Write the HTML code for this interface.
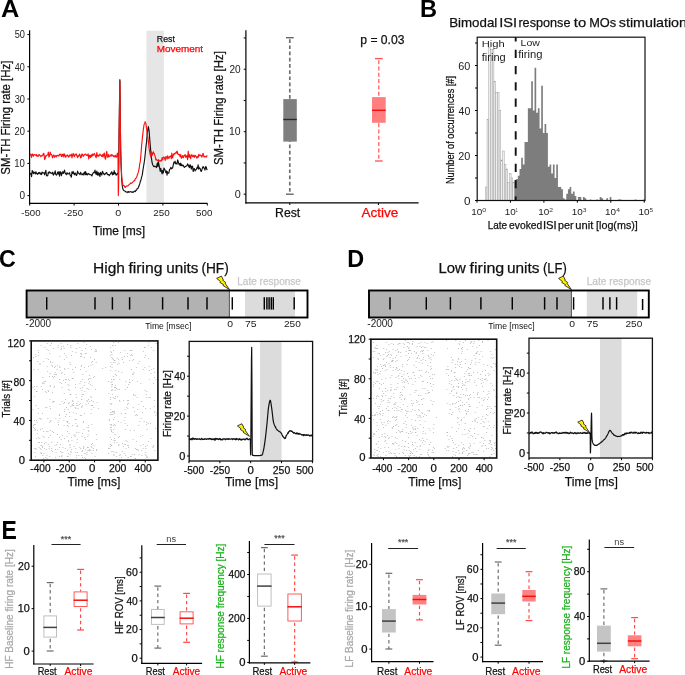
<!DOCTYPE html>
<html><head><meta charset="utf-8"><title>Figure</title>
<style>html,body{margin:0;padding:0;background:#fff;overflow:hidden}svg{display:block;will-change:transform}text{font-family:"Liberation Sans", sans-serif;stroke-width:0.25px}</style>
</head><body>
<svg width="685" height="675" viewBox="0 0 685 675">
<text x="1.04" y="16.9" font-size="24.64" fill="#000" font-weight="bold" textLength="18.32" lengthAdjust="spacingAndGlyphs">A</text>
<rect x="146.4" y="30.7" width="17.5" height="172.2" fill="#e6e6e6"/>
<path d="M29.7,172.79 L30.32,173.83 L30.94,173.69 L31.56,176.64 L32.19,170.51 L32.81,171.47 L33.43,173.61 L34.05,172.03 L34.67,172.76 L35.29,173.98 L35.92,171.77 L36.54,173.65 L37.16,173.69 L37.78,174.37 L38.4,172.57 L39.02,173.39 L39.65,172.46 L40.27,174.14 L40.89,173.09 L41.51,174.58 L42.13,172.08 L42.75,173.03 L43.38,172.84 L44,172.73 L44.62,174.8 L45.24,172.21 L45.86,170.37 L46.48,175.74 L47.1,175.88 L47.73,175.56 L48.35,172.17 L48.97,173.21 L49.59,171.84 L50.21,172.37 L50.83,173.12 L51.46,173.02 L52.08,173.68 L52.7,172.18 L53.32,175.09 L53.94,174.07 L54.56,173.11 L55.19,170.86 L55.81,174.59 L56.43,175.05 L57.05,174.31 L57.67,172.09 L58.29,173.84 L58.92,171.59 L59.54,176.23 L60.16,171.89 L60.78,172.03 L61.4,175.59 L62.02,173.32 L62.64,171.78 L63.27,173.42 L63.89,172.11 L64.51,170.12 L65.13,173.17 L65.75,173.98 L66.37,174.69 L67,172.64 L67.62,173.87 L68.24,173.85 L68.86,173.75 L69.48,172.66 L70.1,175.15 L70.73,175.82 L71.35,177.14 L71.97,171.88 L72.59,173.51 L73.21,171.43 L73.83,173.64 L74.46,174.7 L75.08,172.94 L75.7,173.74 L76.32,175.45 L76.94,174.92 L77.56,171.08 L78.18,173.13 L78.81,173.04 L79.43,174.05 L80.05,174.65 L80.67,172.36 L81.29,173.81 L81.91,174.76 L82.54,173.86 L83.16,174.98 L83.78,173.39 L84.4,172.03 L85.02,174.88 L85.64,171.6 L86.27,174.64 L86.89,173.45 L87.51,174.89 L88.13,174 L88.75,173.61 L89.37,174.31 L90,174.7 L90.62,174.67 L91.24,174.88 L91.86,175.96 L92.48,174.07 L93.1,173.11 L93.72,172.37 L94.35,172.75 L94.97,170.13 L95.59,173.23 L96.21,174.36 L96.83,170.98 L97.45,175.21 L98.08,172.29 L98.7,175.08 L99.32,173.18 L99.94,176.55 L100.56,172.4 L101.18,173.93 L101.81,175.1 L102.43,171.27 L103.05,172.59 L103.67,173.63 L104.29,174.78 L104.91,173.76 L105.54,173.94 L106.16,172.65 L106.78,172.55 L107.4,174.67 L108.02,174.5 L108.64,174.47 L109.26,175.66 L109.89,174.56 L110.51,173.84 L111.13,172.7 L111.75,171.79 L112.37,174.88 L112.99,172.91 L113.62,174.35 L114.24,170.7 L114.86,173.77 L115.48,172.98 L116.1,175.06 L116.72,174.88 L117.35,173.41 L117.97,174.26 L118.14,173.57 L118.5,169.84 L118.59,167.3 L119.21,122.22 L119.83,79.94 L119.92,79.68 L120.45,131.56 L120.63,147.84 L121.08,165.07 L121.7,179.84 L122.32,186.18 L122.94,189.15 L123.56,190.29 L124.18,190.76 L124.8,190.98 L125.25,191.16 L125.43,191.48 L126.05,192.08 L126.67,191.96 L127.29,191.81 L127.91,192.63 L128.53,191.58 L129.16,192.02 L129.78,192.07 L130.4,191.64 L131.02,191.77 L131.64,191.96 L132.26,192.44 L132.71,191.94 L132.89,191.92 L133.51,192.27 L134.13,191.26 L134.75,191.09 L135.37,191.56 L135.99,190.19 L136.62,190.1 L137.24,188.5 L137.33,188.53 L137.86,188.54 L138.48,187.29 L139.1,185.46 L139.72,183.9 L140.34,181.34 L140.7,180.5 L140.97,179.98 L141.59,177.14 L142.21,175.19 L142.83,170.93 L143.45,167.03 L144.07,163.47 L144.7,158.99 L145.32,152.97 L145.94,146.65 L146.38,143.36 L146.56,142.22 L147.18,134.36 L147.8,129.57 L148.34,126.5 L148.43,126.99 L149.05,130.26 L149.67,138.47 L150.29,145.7 L150.65,149.76 L150.91,152.95 L151.53,158.92 L152.16,163.06 L152.6,164.19 L152.78,164.95 L153.4,165.92 L154.02,166.75 L154.64,166.04 L155.26,166.72 L155.88,166.5 L156.51,167.53 L157.13,163.52 L157.75,162.75 L157.93,166.57 L158.37,161.61 L158.99,164.89 L159.61,168.01 L160.24,171.38 L160.59,168.24 L160.86,168.76 L161.48,171.33 L162.1,173.9 L162.72,170.28 L163.26,172.95 L163.34,172.78 L163.97,167.96 L164.59,168.97 L165.21,170.63 L165.83,172.62 L166.45,170.95 L167.07,175.12 L167.34,171.62 L167.7,172.77 L168.32,173.13 L168.94,172.96 L169.56,169.19 L170.18,169.05 L170.71,168.32 L170.8,167.23 L171.42,168.8 L172.05,168.29 L172.67,167.91 L173.29,164.7 L173.91,162.12 L174.53,162.71 L175.15,161.2 L175.33,163.82 L175.78,162.82 L176.4,163.35 L177.02,164.22 L177.64,159.92 L178.26,161.62 L178.88,164.2 L179.51,164.42 L179.77,163.48 L180.13,165.6 L180.75,163.08 L181.37,165.79 L181.99,164.66 L182.61,165.83 L183.24,165.26 L183.86,166.71 L184.48,167.28 L185.1,166.62 L185.72,166.42 L186.34,166.08 L186.96,165.75 L187.59,163.84 L188.21,165.07 L188.83,166.79 L189.45,165.54 L189.54,167.62 L190.07,164.66 L190.69,166.13 L191.32,169.06 L191.94,166.18 L192.56,166.26 L193.18,171.5 L193.8,168.85 L194.42,168.6 L195.05,170.85 L195.67,169.73 L196.29,169.67 L196.91,167.66 L197.53,168.04 L198.15,164.73 L198.42,169.12 L198.78,166.9 L199.4,168.5 L200.02,168.25 L200.64,170.36 L201.26,171.48 L201.88,169.85 L202.5,167.66 L203.13,166.5 L203.75,167.94 L204.37,168.11 L204.99,170.06 L205.61,166.64 L206.23,166.92 L206.86,169.64 L207.3,168.94" fill="none" stroke="#111" stroke-width="1.15" stroke-linejoin="round"/>
<path d="M29.7,154.82 L30.32,154.08 L30.94,154.84 L31.56,157.36 L32.19,153.95 L32.81,154.66 L33.43,156.18 L34.05,154.45 L34.67,154.79 L35.29,154.9 L35.92,155.31 L36.54,154.51 L37.16,156.49 L37.78,155.6 L38.4,156.1 L39.02,154.42 L39.65,155.29 L40.27,155.8 L40.89,156.56 L41.51,155.75 L42.13,155.34 L42.75,155.78 L43.38,153.35 L44,153.79 L44.62,159.54 L45.24,158.27 L45.86,155.62 L46.48,156 L47.1,155.02 L47.73,155.01 L48.35,152.08 L48.97,157.07 L49.59,155.93 L50.21,152.19 L50.83,154.35 L51.46,154.33 L52.08,156.14 L52.7,157.9 L53.32,155.09 L53.94,155.18 L54.56,157.25 L55.19,156.41 L55.81,155.46 L56.43,156.81 L57.05,155.5 L57.67,155.2 L58.29,155.29 L58.92,156.13 L59.54,154.43 L60.16,153.97 L60.78,154.85 L61.4,156.61 L62.02,154.22 L62.64,156.13 L63.27,153.99 L63.89,157.01 L64.51,153.94 L65.13,155.38 L65.75,157.28 L66.37,155.84 L67,155.27 L67.62,154.93 L68.24,156.87 L68.86,157.06 L69.48,155.04 L70.1,156.07 L70.73,154.99 L71.35,154.18 L71.97,157.9 L72.59,154.96 L73.21,153.46 L73.83,155.81 L74.46,156.6 L75.08,154.19 L75.7,154.96 L76.32,153.97 L76.94,155.88 L77.56,157.64 L78.18,155.52 L78.81,156.04 L79.43,154.15 L80.05,155.05 L80.67,157.87 L81.29,157.2 L81.91,153.98 L82.54,154.3 L83.16,156.34 L83.78,155.35 L84.4,154.66 L85.02,154.63 L85.64,154 L86.27,154.95 L86.89,155.5 L87.51,155.75 L88.13,153.72 L88.75,158.83 L89.37,155.56 L90,155.3 L90.62,157.55 L91.24,154.84 L91.86,156.36 L92.48,154.02 L93.1,155.54 L93.72,154.32 L94.35,153.47 L94.97,154.76 L95.59,156.7 L96.21,157.69 L96.83,152.64 L97.45,155.52 L98.08,156.41 L98.7,155.13 L99.32,155.65 L99.94,154.03 L100.56,155.3 L101.18,155.33 L101.81,156.45 L102.43,154.62 L103.05,156.95 L103.67,154.32 L104.29,152.99 L104.91,157.71 L105.54,159.16 L106.16,154.4 L106.78,151.41 L107.4,156.9 L108.02,157.28 L108.64,154.44 L109.26,156.65 L109.89,156.13 L110.51,155.89 L111.13,154.53 L111.75,155.98 L112.37,154.92 L112.99,155.62 L113.62,156.66 L114.24,155.84 L114.86,156.82 L115.48,155.34 L116.1,157.09 L116.72,157.04 L117.35,153.1 L117.97,155.37 L118.32,195.6 L118.59,186.9 L119.21,129.15 L119.83,82.41 L119.92,81.29 L120.45,132.5 L120.63,147.82 L121.08,163.28 L121.7,176.55 L122.32,182.09 L122.94,184.74 L123.56,185.72 L124.18,185.61 L124.72,187.11 L124.8,186.51 L125.43,187.49 L126.05,186.4 L126.67,185.79 L127.29,186.05 L127.91,185.91 L128.53,185.16 L129.16,184.54 L129.78,184.12 L130.4,183.07 L131.02,183.39 L131.64,183.27 L132,182.78 L132.26,182.54 L132.89,181.92 L133.51,181.37 L134.13,180.58 L134.75,180.63 L135.37,178.61 L135.99,178.22 L136.62,177.34 L137.24,175.22 L137.33,174.72 L137.86,173.63 L138.48,171.43 L139.1,168.97 L139.72,163.75 L139.99,163 L140.34,161.1 L140.97,154.07 L141.59,145.87 L142.21,139.65 L142.48,136.6 L142.83,134.16 L143.45,128.59 L144.07,124.53 L144.7,123.42 L145.14,121.52 L145.32,122.42 L145.94,123.66 L146.56,128.51 L147.18,133.31 L147.63,137.15 L147.8,137 L148.43,141.65 L149.05,148.11 L149.67,151.89 L150.29,155.17 L150.65,155.39 L150.91,157.24 L151.53,151.86 L152.16,155.4 L152.78,153.51 L153.4,151.74 L153.66,153.45 L154.02,153.1 L154.64,155.11 L155.26,156.51 L155.88,159.9 L156.15,159.25 L156.51,159.36 L157.13,160.33 L157.75,160.35 L158.37,161.24 L158.64,159.66 L158.99,161.28 L159.61,160.71 L160.24,161.07 L160.86,160.29 L161.48,160.85 L162.1,157.58 L162.72,159.76 L162.9,159.08 L163.34,157.22 L163.97,156.98 L164.59,158.06 L165.21,160.44 L165.83,156.55 L166.45,156.69 L167.07,159.18 L167.7,155.72 L168.32,157.89 L168.94,158.45 L169.56,156.44 L170.18,156.73 L170.8,155.98 L171.42,158.59 L171.78,153.19 L172.05,156.81 L172.67,157.87 L173.29,154.01 L173.91,154.91 L174.53,153.24 L175.15,153.67 L175.78,152.74 L176.4,151.91 L177.02,153.29 L177.11,151.08 L177.64,153.18 L178.26,154.72 L178.88,154.34 L179.51,154.54 L179.77,155.7 L180.13,156.74 L180.75,154.53 L181.37,158.29 L181.99,157.23 L182.61,155.64 L183.24,157.86 L183.86,155.76 L184.48,155.93 L185.1,154.49 L185.72,157.33 L186.34,156.91 L186.96,155.44 L187.59,159.77 L188.21,151.19 L188.83,157.07 L189.45,157.12 L189.54,154.66 L190.07,156.06 L190.69,158.74 L191.32,155.03 L191.94,154.67 L192.56,156.69 L193.18,156.43 L193.8,155.24 L194.42,157.4 L195.05,155.32 L195.67,155.69 L196.29,157.04 L196.91,158.15 L197.53,156.34 L198.15,157.35 L198.78,154.45 L199.4,155.77 L200.02,154.79 L200.64,155.79 L201.26,155.59 L201.88,157.2 L202.5,154.96 L203.13,153.24 L203.75,156.47 L204.37,156.91 L204.99,156.24 L205.61,156.74 L206.23,157.08 L206.86,155.78 L207.3,156.44" fill="none" stroke="#ff1010" stroke-width="1.15" stroke-linejoin="round"/>
<line x1="29.6" y1="30.2" x2="29.6" y2="204" stroke="#000" stroke-width="1.2"/>
<line x1="29" y1="203.4" x2="207.5" y2="203.4" stroke="#000" stroke-width="1.2"/>
<line x1="27.4" y1="195.6" x2="29.6" y2="195.6" stroke="#000" stroke-width="1"/>
<text x="19.4" y="199.3" font-size="10" fill="#222" textLength="5.56" lengthAdjust="spacingAndGlyphs">0</text>
<line x1="27.4" y1="163.4" x2="29.6" y2="163.4" stroke="#000" stroke-width="1"/>
<text x="14.23" y="167.1" font-size="10" fill="#222" textLength="10.68" lengthAdjust="spacingAndGlyphs">10</text>
<line x1="27.4" y1="131.2" x2="29.6" y2="131.2" stroke="#000" stroke-width="1"/>
<text x="14.53" y="134.9" font-size="10" fill="#222" textLength="10.37" lengthAdjust="spacingAndGlyphs">20</text>
<line x1="27.4" y1="99" x2="29.6" y2="99" stroke="#000" stroke-width="1"/>
<text x="14.63" y="102.7" font-size="10" fill="#222" textLength="10.27" lengthAdjust="spacingAndGlyphs">30</text>
<line x1="27.4" y1="66.8" x2="29.6" y2="66.8" stroke="#000" stroke-width="1"/>
<text x="14.82" y="70.5" font-size="10" fill="#222" textLength="10.07" lengthAdjust="spacingAndGlyphs">40</text>
<line x1="27.4" y1="34.6" x2="29.6" y2="34.6" stroke="#000" stroke-width="1"/>
<text x="14.63" y="38.3" font-size="10" fill="#222" textLength="10.27" lengthAdjust="spacingAndGlyphs">50</text>
<line x1="29.7" y1="203.4" x2="29.7" y2="205.6" stroke="#000" stroke-width="1"/>
<text x="21.31" y="216" font-size="9.57" fill="#222" textLength="19.29" lengthAdjust="spacingAndGlyphs">-500</text>
<line x1="74.1" y1="203.4" x2="74.1" y2="205.6" stroke="#000" stroke-width="1"/>
<text x="63.81" y="216" font-size="9.57" fill="#222" textLength="19.29" lengthAdjust="spacingAndGlyphs">-250</text>
<line x1="118.5" y1="203.4" x2="118.5" y2="205.6" stroke="#000" stroke-width="1"/>
<text x="115.17" y="216" font-size="9.57" fill="#222" textLength="6.02" lengthAdjust="spacingAndGlyphs">0</text>
<line x1="162.9" y1="203.4" x2="162.9" y2="205.6" stroke="#000" stroke-width="1"/>
<text x="153.31" y="216" font-size="9.57" fill="#222" textLength="16.47" lengthAdjust="spacingAndGlyphs">250</text>
<line x1="207.3" y1="203.4" x2="207.3" y2="205.6" stroke="#000" stroke-width="1"/>
<text x="196.01" y="216" font-size="9.57" fill="#222" textLength="16.37" lengthAdjust="spacingAndGlyphs">500</text>
<text x="92.76" y="235" font-size="11.88" fill="#111" stroke="#111" textLength="52.3" lengthAdjust="spacingAndGlyphs">Time [ms]</text>
<text x="0" y="0" font-size="12.17" fill="#111" stroke="#111" textLength="114.07" lengthAdjust="spacingAndGlyphs" transform="translate(9.9,174.67) rotate(-90)">SM-TH Firing rate [Hz]</text>
<text x="156.8" y="42" font-size="9.57" fill="#111" stroke="#111" textLength="18.06" lengthAdjust="spacingAndGlyphs">Rest</text>
<text x="156.71" y="52.4" font-size="9.57" fill="#ff0000" stroke="#ff0000" textLength="46.38" lengthAdjust="spacingAndGlyphs">Movement</text>
<line x1="243.7" y1="194.2" x2="245.9" y2="194.2" stroke="#000" stroke-width="1"/>
<line x1="243.7" y1="162.95" x2="245.9" y2="162.95" stroke="#000" stroke-width="1"/>
<line x1="243.7" y1="131.7" x2="245.9" y2="131.7" stroke="#000" stroke-width="1"/>
<line x1="243.7" y1="100.45" x2="245.9" y2="100.45" stroke="#000" stroke-width="1"/>
<line x1="243.7" y1="69.2" x2="245.9" y2="69.2" stroke="#000" stroke-width="1"/>
<line x1="243.7" y1="37.95" x2="245.9" y2="37.95" stroke="#000" stroke-width="1"/>
<text x="234.67" y="197.9" font-size="10" fill="#222" textLength="6.02" lengthAdjust="spacingAndGlyphs">0</text>
<text x="229.07" y="135.4" font-size="10" fill="#222" textLength="11.57" lengthAdjust="spacingAndGlyphs">10</text>
<text x="229.4" y="72.9" font-size="10" fill="#222" textLength="11.23" lengthAdjust="spacingAndGlyphs">20</text>
<line x1="289.8" y1="202.8" x2="289.8" y2="205" stroke="#000" stroke-width="1"/>
<line x1="378.4" y1="202.8" x2="378.4" y2="205" stroke="#000" stroke-width="1"/>
<text x="0" y="0" font-size="12.17" fill="#111" stroke="#111" textLength="113.77" lengthAdjust="spacingAndGlyphs" transform="translate(223.2,164.97) rotate(-90)">SM-TH Firing rate [Hz]</text>
<text x="275.12" y="216.9" font-size="13.33" fill="#111" stroke="#111" textLength="25.15" lengthAdjust="spacingAndGlyphs">Rest</text>
<text x="361.6" y="216.9" font-size="13.33" fill="#ff0000" stroke="#ff0000" textLength="36.68" lengthAdjust="spacingAndGlyphs">Active</text>
<text x="360.27" y="44.2" font-size="12.57" fill="#111" stroke="#111" textLength="44.24" lengthAdjust="spacingAndGlyphs">p = 0.03</text>
<line x1="289.8" y1="39.2" x2="289.8" y2="194.2" stroke="#707070" stroke-width="1.7" stroke-dasharray="3.7,2.5"/>
<line x1="286" y1="37.7" x2="293.7" y2="37.7" stroke="#666" stroke-width="1.4"/>
<line x1="286" y1="194.2" x2="293.7" y2="194.2" stroke="#666" stroke-width="1.4"/>
<rect x="283.3" y="99.1" width="13.5" height="42.5" fill="#7f7f7f"/>
<line x1="283.3" y1="119.5" x2="296.8" y2="119.5" stroke="#2a2a2a" stroke-width="1.4"/>
<line x1="378.8" y1="60.2" x2="378.8" y2="161" stroke="#ff5555" stroke-width="1.2" stroke-dasharray="4,2.3"/>
<line x1="375" y1="58.6" x2="382.7" y2="58.6" stroke="#ff5050" stroke-width="1.3"/>
<line x1="375" y1="161" x2="382.7" y2="161" stroke="#ff5050" stroke-width="1.3"/>
<rect x="372" y="97.1" width="13.7" height="25.7" fill="#ff7f7f"/>
<line x1="372" y1="110.3" x2="385.7" y2="110.3" stroke="#f01010" stroke-width="1.4"/>
<line x1="245.9" y1="30.2" x2="245.9" y2="203.4" stroke="#000" stroke-width="1.2"/>
<line x1="245.3" y1="202.8" x2="418.6" y2="202.8" stroke="#000" stroke-width="1.2"/>
<text x="420.05" y="16.9" font-size="24.64" fill="#000" font-weight="bold" textLength="17.05" lengthAdjust="spacingAndGlyphs">B</text>
<text x="449.24" y="27" font-size="13.33" fill="#111" stroke="#111" textLength="48" lengthAdjust="spacingAndGlyphs">Bimodal</text>
<text x="499.18" y="27" font-size="13.33" fill="#111" stroke="#111" textLength="17.87" lengthAdjust="spacingAndGlyphs">ISI</text>
<text x="518.41" y="27" font-size="13.33" fill="#111" stroke="#111" textLength="52.03" lengthAdjust="spacingAndGlyphs">response</text>
<text x="573.85" y="27" font-size="13.33" fill="#111" stroke="#111" textLength="12.35" lengthAdjust="spacingAndGlyphs">to</text>
<text x="589.17" y="27" font-size="13.33" fill="#111" stroke="#111" textLength="27.05" lengthAdjust="spacingAndGlyphs">MOs</text>
<text x="618.87" y="27" font-size="13.33" fill="#111" stroke="#111" textLength="68.12" lengthAdjust="spacingAndGlyphs">stimulation</text>
<rect x="485.3" y="187" width="1.72" height="13.5" fill="#eeeeee" stroke="#9a9a9a" stroke-width="0.45"/>
<rect x="487.02" y="119.5" width="1.72" height="81" fill="#eeeeee" stroke="#9a9a9a" stroke-width="0.45"/>
<rect x="488.74" y="47.5" width="1.72" height="153" fill="#eeeeee" stroke="#9a9a9a" stroke-width="0.45"/>
<rect x="490.46" y="49.75" width="1.72" height="150.75" fill="#eeeeee" stroke="#9a9a9a" stroke-width="0.45"/>
<rect x="492.18" y="49.75" width="1.72" height="150.75" fill="#eeeeee" stroke="#9a9a9a" stroke-width="0.45"/>
<rect x="493.9" y="81.25" width="1.72" height="119.25" fill="#eeeeee" stroke="#9a9a9a" stroke-width="0.45"/>
<rect x="495.62" y="92.5" width="1.72" height="108" fill="#eeeeee" stroke="#9a9a9a" stroke-width="0.45"/>
<rect x="497.34" y="92.5" width="1.72" height="108" fill="#eeeeee" stroke="#9a9a9a" stroke-width="0.45"/>
<rect x="499.06" y="110.5" width="1.72" height="90" fill="#eeeeee" stroke="#9a9a9a" stroke-width="0.45"/>
<rect x="500.78" y="160" width="1.72" height="40.5" fill="#eeeeee" stroke="#9a9a9a" stroke-width="0.45"/>
<rect x="502.5" y="151" width="1.72" height="49.5" fill="#eeeeee" stroke="#9a9a9a" stroke-width="0.45"/>
<rect x="504.22" y="164.5" width="1.72" height="36" fill="#eeeeee" stroke="#9a9a9a" stroke-width="0.45"/>
<rect x="505.94" y="169" width="1.72" height="31.5" fill="#eeeeee" stroke="#9a9a9a" stroke-width="0.45"/>
<rect x="507.66" y="182.5" width="1.72" height="18" fill="#eeeeee" stroke="#9a9a9a" stroke-width="0.45"/>
<rect x="509.38" y="173.5" width="1.72" height="27" fill="#eeeeee" stroke="#9a9a9a" stroke-width="0.45"/>
<rect x="511.1" y="178" width="1.72" height="22.5" fill="#eeeeee" stroke="#9a9a9a" stroke-width="0.45"/>
<rect x="512.82" y="182.5" width="1.72" height="18" fill="#eeeeee" stroke="#9a9a9a" stroke-width="0.45"/>
<path d="M514.5,200.5 L514.5,180.25 L516.17,180.25 L516.17,179.12 L517.84,179.12 L517.84,175.75 L519.51,175.75 L519.51,169 L521.18,169 L521.18,157.75 L522.85,157.75 L522.85,164.5 L524.52,164.5 L524.52,142 L526.19,142 L526.19,142 L527.86,142 L527.86,108.25 L529.53,108.25 L529.53,108.25 L531.2,108.25 L531.2,81.25 L532.87,81.25 L532.87,110.5 L534.54,110.5 L534.54,67.75 L536.21,67.75 L536.21,112.75 L537.88,112.75 L537.88,108.25 L539.55,108.25 L539.55,128.5 L541.22,128.5 L541.22,85.75 L542.89,85.75 L542.89,133 L544.56,133 L544.56,124 L546.23,124 L546.23,133 L547.9,133 L547.9,166.75 L549.57,166.75 L549.57,164.5 L551.24,164.5 L551.24,173.5 L552.91,173.5 L552.91,164.5 L554.58,164.5 L554.58,178 L556.25,178 L556.25,164.5 L557.92,164.5 L557.92,187 L559.59,187 L559.59,187 L561.26,187 L561.26,189.25 L562.93,189.25 L562.93,198.25 L564.6,198.25 L564.6,199.38 L566.27,199.38 L566.27,193.75 L567.94,193.75 L567.94,189.25 L569.61,189.25 L569.61,187 L571.28,187 L571.28,193.75 L572.95,193.75 L572.95,191.5 L574.62,191.5 L574.62,196 L576.29,196 L576.29,200.5 L577.96,200.5 L577.96,197.12 L579.63,197.12 L579.63,197.12 L581.3,197.12 L581.3,200.5 L582.97,200.5 L582.97,197.12 L584.64,197.12 L584.64,198.25 L586.31,198.25 L586.31,200.5 L587.98,200.5 L587.98,200.5 L589.65,200.5 L589.65,199.38 L591.32,199.38 L591.32,200.5 L592.99,200.5 L592.99,200.5 L594.66,200.5 L594.66,200.5 L596.33,200.5 L596.33,199.38 L598,199.38 L598,200.5 L599.67,200.5 L599.67,197.12 L601.34,197.12 L601.34,198.25 L603.01,198.25 L603.01,200.5 L604.68,200.5 L604.68,200.5 L606.35,200.5 L606.35,198.25 L608.02,198.25 L608.02,200.5 L609.69,200.5 L609.69,197.12 L611.36,197.12 L611.36,200.5 L613.03,200.5 L613.03,200.5 L614.7,200.5 L614.7,200.5 L616.37,200.5 L616.37,200.5 L618.04,200.5 L618.04,199.38 L619.71,199.38 L619.71,199.38 L621.38,199.38 L621.38,200.5 L623.05,200.5 L623.05,200.5 L624.72,200.5 L624.72,200.5 L626.39,200.5 L626.39,200.5 L628.06,200.5 L628.06,200.5 L629.73,200.5 L629.73,200.5 L631.4,200.5 L631.4,200.5 L633.07,200.5 L633.07,200.5 L634.74,200.5 L634.74,199.38 L636.41,199.38 L636.41,200.5 L638.08,200.5 L638.08,200.5 L639.75,200.5 L639.75,200.5 L641.42,200.5 L641.42,200.5 L643.09,200.5 L643.09,199.38 L644.76,199.38 L644.76,200.5 Z" fill="#7d7d7d"/>
<rect x="477.2" y="37.2" width="167.8" height="163.3" fill="none" stroke="#111" stroke-width="1.2"/>
<line x1="515.7" y1="37.2" x2="515.7" y2="200.5" stroke="#111" stroke-width="1.9" stroke-dasharray="8.2,8.1" stroke-dashoffset="3.8"/>
<line x1="475" y1="200.5" x2="477.2" y2="200.5" stroke="#000" stroke-width="1"/>
<line x1="475" y1="178" x2="477.2" y2="178" stroke="#000" stroke-width="1"/>
<line x1="475" y1="155.5" x2="477.2" y2="155.5" stroke="#000" stroke-width="1"/>
<line x1="475" y1="133" x2="477.2" y2="133" stroke="#000" stroke-width="1"/>
<line x1="475" y1="110.5" x2="477.2" y2="110.5" stroke="#000" stroke-width="1"/>
<line x1="475" y1="88" x2="477.2" y2="88" stroke="#000" stroke-width="1"/>
<line x1="475" y1="65.5" x2="477.2" y2="65.5" stroke="#000" stroke-width="1"/>
<line x1="475" y1="43" x2="477.2" y2="43" stroke="#000" stroke-width="1"/>
<text x="463.93" y="204.5" font-size="10.86" fill="#222" textLength="6.49" lengthAdjust="spacingAndGlyphs">0</text>
<text x="458.26" y="159.5" font-size="10.86" fill="#222" textLength="12.09" lengthAdjust="spacingAndGlyphs">20</text>
<text x="458.59" y="114.5" font-size="10.86" fill="#222" textLength="11.75" lengthAdjust="spacingAndGlyphs">40</text>
<text x="458.26" y="69.5" font-size="10.86" fill="#222" textLength="12.09" lengthAdjust="spacingAndGlyphs">60</text>
<line x1="477" y1="200.5" x2="477" y2="202.7" stroke="#000" stroke-width="1"/>
<text x="471.31" y="214.9" font-size="9.57" fill="#222" textLength="11.01" lengthAdjust="spacingAndGlyphs">10</text>
<text x="482.32" y="212.3" font-size="5.71" fill="#333" textLength="3.94" lengthAdjust="spacingAndGlyphs">0</text>
<line x1="510.45" y1="200.5" x2="510.45" y2="202.7" stroke="#000" stroke-width="1"/>
<text x="504.76" y="214.9" font-size="9.57" fill="#222" textLength="11.01" lengthAdjust="spacingAndGlyphs">10</text>
<text x="515.75" y="212.3" font-size="5.71" fill="#333" textLength="2.07" lengthAdjust="spacingAndGlyphs">1</text>
<line x1="543.9" y1="200.5" x2="543.9" y2="202.7" stroke="#000" stroke-width="1"/>
<text x="538.21" y="214.9" font-size="9.57" fill="#222" textLength="11.01" lengthAdjust="spacingAndGlyphs">10</text>
<text x="549.16" y="212.3" font-size="5.71" fill="#333" textLength="3.75" lengthAdjust="spacingAndGlyphs">2</text>
<line x1="577.35" y1="200.5" x2="577.35" y2="202.7" stroke="#000" stroke-width="1"/>
<text x="571.66" y="214.9" font-size="9.57" fill="#222" textLength="11.01" lengthAdjust="spacingAndGlyphs">10</text>
<text x="582.69" y="212.3" font-size="5.71" fill="#333" textLength="3.67" lengthAdjust="spacingAndGlyphs">3</text>
<line x1="610.8" y1="200.5" x2="610.8" y2="202.7" stroke="#000" stroke-width="1"/>
<text x="605.11" y="214.9" font-size="9.57" fill="#222" textLength="11.01" lengthAdjust="spacingAndGlyphs">10</text>
<text x="616.27" y="212.3" font-size="5.71" fill="#333" textLength="3.71" lengthAdjust="spacingAndGlyphs">4</text>
<line x1="644.25" y1="200.5" x2="644.25" y2="202.7" stroke="#000" stroke-width="1"/>
<text x="638.56" y="214.9" font-size="9.57" fill="#222" textLength="11.01" lengthAdjust="spacingAndGlyphs">10</text>
<text x="649.59" y="212.3" font-size="5.71" fill="#333" textLength="3.59" lengthAdjust="spacingAndGlyphs">5</text>
<text x="0" y="0" font-size="11.16" fill="#111" stroke="#111" textLength="107.99" lengthAdjust="spacingAndGlyphs" transform="translate(453.5,184.03) rotate(-90)">Number of occurrences [#]</text>
<text x="487.7" y="229" font-size="10.58" fill="#111" stroke="#111" textLength="19.35" lengthAdjust="spacingAndGlyphs">Late</text>
<text x="509.09" y="229" font-size="10.58" fill="#111" stroke="#111" textLength="33.17" lengthAdjust="spacingAndGlyphs">evoked</text>
<text x="542.99" y="229" font-size="10.58" fill="#111" stroke="#111" textLength="13.75" lengthAdjust="spacingAndGlyphs">ISI</text>
<text x="558.06" y="229" font-size="10.58" fill="#111" stroke="#111" textLength="15.51" lengthAdjust="spacingAndGlyphs">per</text>
<text x="575.33" y="229" font-size="10.58" fill="#111" stroke="#111" textLength="17.9" lengthAdjust="spacingAndGlyphs">unit</text>
<text x="596.05" y="229" font-size="10.58" fill="#111" stroke="#111" textLength="41.79" lengthAdjust="spacingAndGlyphs">[log(ms)]</text>
<text x="481.7" y="47.4" font-size="9.71" fill="#222" textLength="23.04" lengthAdjust="spacingAndGlyphs">High</text>
<text x="481.79" y="60.5" font-size="10" fill="#222" textLength="23.95" lengthAdjust="spacingAndGlyphs">firing</text>
<text x="520.56" y="46" font-size="9.28" fill="#222" textLength="19.29" lengthAdjust="spacingAndGlyphs">Low</text>
<text x="518.19" y="58.4" font-size="10" fill="#222" textLength="24.37" lengthAdjust="spacingAndGlyphs">firing</text>
<text x="-0.93" y="267.3" font-size="24.71" fill="#000" font-weight="bold" textLength="16.78" lengthAdjust="spacingAndGlyphs">C</text>
<text x="92.96" y="273.3" font-size="14.93" fill="#111" stroke="#111" textLength="31.98" lengthAdjust="spacingAndGlyphs">High</text>
<text x="128.44" y="273.3" font-size="14.93" fill="#111" stroke="#111" textLength="34.12" lengthAdjust="spacingAndGlyphs">firing</text>
<text x="166.18" y="273.3" font-size="14.93" fill="#111" stroke="#111" textLength="32.26" lengthAdjust="spacingAndGlyphs">units</text>
<text x="201.38" y="273.3" font-size="14.93" fill="#111" stroke="#111" textLength="27.33" lengthAdjust="spacingAndGlyphs">(HF)</text>
<rect x="26.6" y="290.5" width="202.8" height="27" fill="#b2b2b2"/>
<rect x="245" y="290.5" width="50" height="27" fill="#dcdcdc"/>
<line x1="229.4" y1="289.5" x2="229.4" y2="317.5" stroke="#444" stroke-width="0.9"/>
<rect x="26.6" y="290.5" width="280.9" height="27" fill="none" stroke="#000" stroke-width="1.9"/>
<line x1="46.7" y1="297.2" x2="46.7" y2="309.6" stroke="#000" stroke-width="1.45"/>
<line x1="95" y1="297.2" x2="95" y2="309.6" stroke="#000" stroke-width="1.45"/>
<line x1="112.4" y1="297.2" x2="112.4" y2="309.6" stroke="#000" stroke-width="1.45"/>
<line x1="129.6" y1="297.2" x2="129.6" y2="309.6" stroke="#000" stroke-width="1.45"/>
<line x1="162.6" y1="297.2" x2="162.6" y2="309.6" stroke="#000" stroke-width="1.45"/>
<line x1="188" y1="297.2" x2="188" y2="309.6" stroke="#000" stroke-width="1.45"/>
<line x1="207" y1="297.2" x2="207" y2="309.6" stroke="#000" stroke-width="1.45"/>
<line x1="232.3" y1="297.2" x2="232.3" y2="309.6" stroke="#000" stroke-width="1.45"/>
<line x1="264.3" y1="297.2" x2="264.3" y2="309.6" stroke="#000" stroke-width="1.45"/>
<line x1="266.9" y1="297.2" x2="266.9" y2="309.6" stroke="#000" stroke-width="1.45"/>
<line x1="269.1" y1="297.2" x2="269.1" y2="309.6" stroke="#000" stroke-width="1.45"/>
<line x1="271.3" y1="297.2" x2="271.3" y2="309.6" stroke="#000" stroke-width="1.45"/>
<line x1="273.3" y1="297.2" x2="273.3" y2="309.6" stroke="#000" stroke-width="1.45"/>
<line x1="294.2" y1="297.2" x2="294.2" y2="309.6" stroke="#000" stroke-width="1.45"/>
<text x="25.6" y="326.8" font-size="10" fill="#222" textLength="25.57" lengthAdjust="spacingAndGlyphs">-2000</text>
<text x="227.38" y="326.8" font-size="9.14" fill="#222" textLength="5.79" lengthAdjust="spacingAndGlyphs">0</text>
<text x="244.98" y="326.6" font-size="9" fill="#222" textLength="11.66" lengthAdjust="spacingAndGlyphs">75</text>
<text x="283.99" y="326.6" font-size="9" fill="#222" textLength="16.89" lengthAdjust="spacingAndGlyphs">250</text>
<text x="237.19" y="285.3" font-size="10.14" fill="#c6c6c6" stroke="#c6c6c6" textLength="63.78" lengthAdjust="spacingAndGlyphs">Late response</text>
<text x="145.13" y="329.4" font-size="8.84" fill="#111" textLength="46.25" lengthAdjust="spacingAndGlyphs">Time [msec]</text>
<path d="M216.6,278.4 L221.4,276.1 L223.3,279.6 L222.6,280 L225.8,282.6 L225,283.2 L229.5,289.6 L222.8,285.4 L223.6,284.7 L219.8,282.4 L220.6,281.6 Z" fill="#fff000" stroke="#111" stroke-width="0.8" stroke-linejoin="miter"/>
<text x="347.16" y="267.1" font-size="24.64" fill="#000" font-weight="bold" textLength="16.93" lengthAdjust="spacingAndGlyphs">D</text>
<text x="438.41" y="273.3" font-size="14.93" fill="#111" stroke="#111" textLength="27.36" lengthAdjust="spacingAndGlyphs">Low</text>
<text x="469.54" y="273.3" font-size="14.93" fill="#111" stroke="#111" textLength="34.74" lengthAdjust="spacingAndGlyphs">firing</text>
<text x="506.98" y="273.3" font-size="14.93" fill="#111" stroke="#111" textLength="32.47" lengthAdjust="spacingAndGlyphs">units</text>
<text x="542.92" y="273.3" font-size="14.93" fill="#111" stroke="#111" textLength="23.9" lengthAdjust="spacingAndGlyphs">(LF)</text>
<rect x="369" y="290.5" width="202.4" height="27" fill="#b2b2b2"/>
<rect x="586.8" y="290.5" width="50.4" height="27" fill="#dcdcdc"/>
<line x1="571.4" y1="289.5" x2="571.4" y2="317.5" stroke="#444" stroke-width="0.9"/>
<rect x="369" y="290.5" width="279.8" height="27" fill="none" stroke="#000" stroke-width="1.9"/>
<line x1="390" y1="297.2" x2="390" y2="309.6" stroke="#000" stroke-width="1.45"/>
<line x1="426.3" y1="297.2" x2="426.3" y2="309.6" stroke="#000" stroke-width="1.45"/>
<line x1="450.4" y1="297.2" x2="450.4" y2="309.6" stroke="#000" stroke-width="1.45"/>
<line x1="480.9" y1="297.2" x2="480.9" y2="309.6" stroke="#000" stroke-width="1.45"/>
<line x1="512.3" y1="297.2" x2="512.3" y2="309.6" stroke="#000" stroke-width="1.45"/>
<line x1="544.6" y1="297.2" x2="544.6" y2="309.6" stroke="#000" stroke-width="1.45"/>
<line x1="557" y1="297.2" x2="557" y2="309.6" stroke="#000" stroke-width="1.45"/>
<line x1="573.6" y1="297.2" x2="573.6" y2="309.6" stroke="#000" stroke-width="1.45"/>
<line x1="603" y1="297.2" x2="603" y2="309.6" stroke="#000" stroke-width="1.45"/>
<line x1="609.9" y1="297.2" x2="609.9" y2="309.6" stroke="#000" stroke-width="1.45"/>
<line x1="616.6" y1="297.2" x2="616.6" y2="309.6" stroke="#000" stroke-width="1.45"/>
<line x1="642.6" y1="299" x2="642.6" y2="310" stroke="#000" stroke-width="1.5"/>
<text x="367.3" y="326.8" font-size="10" fill="#222" textLength="25.57" lengthAdjust="spacingAndGlyphs">-2000</text>
<text x="569.38" y="326.8" font-size="9.14" fill="#222" textLength="5.79" lengthAdjust="spacingAndGlyphs">0</text>
<text x="586.78" y="326.6" font-size="9" fill="#222" textLength="11.55" lengthAdjust="spacingAndGlyphs">75</text>
<text x="625.49" y="326.6" font-size="9" fill="#222" textLength="16.89" lengthAdjust="spacingAndGlyphs">250</text>
<text x="586.69" y="285.3" font-size="10.14" fill="#c6c6c6" stroke="#c6c6c6" textLength="64.39" lengthAdjust="spacingAndGlyphs">Late response</text>
<text x="488.13" y="329.4" font-size="8.84" fill="#111" textLength="46.65" lengthAdjust="spacingAndGlyphs">Time [msec]</text>
<path d="M558.5,278.4 L563.3,276.1 L565.2,279.6 L564.5,280 L567.7,282.6 L566.9,283.2 L571.4,289.6 L564.7,285.4 L565.5,284.7 L561.7,282.4 L562.5,281.6 Z" fill="#fff000" stroke="#111" stroke-width="0.8" stroke-linejoin="miter"/>
<path d="M35.78,449.1h0.85v0.85h-0.85zM147.95,345.1h0.85v0.85h-0.85zM48.38,350.1h0.85v0.85h-0.85zM114.86,345.1h0.85v0.85h-0.85zM57.7,347.1h0.85v0.85h-0.85zM76.25,455.1h0.85v0.85h-0.85zM85.81,353.1h0.85v0.85h-0.85zM116.17,375.1h0.85v0.85h-0.85zM57.24,442.1h0.85v0.85h-0.85zM75.31,448.1h0.85v0.85h-0.85zM90.67,405.1h0.85v0.85h-0.85zM145.19,446.1h0.85v0.85h-0.85zM119.16,389.1h0.85v0.85h-0.85zM118.37,371.1h0.85v0.85h-0.85zM71.78,378.1h0.85v0.85h-0.85zM43.33,458.1h0.85v0.85h-0.85zM53.73,401.1h0.85v0.85h-0.85zM35.27,448.1h0.85v0.85h-0.85zM48.06,391.1h0.85v0.85h-0.85zM143.9,347.1h0.85v0.85h-0.85zM55.91,444.1h0.85v0.85h-0.85zM93.7,445.1h0.85v0.85h-0.85zM59.29,366.1h0.85v0.85h-0.85zM71.5,440.1h0.85v0.85h-0.85zM74.68,436.1h0.85v0.85h-0.85zM125.29,444.1h0.85v0.85h-0.85zM37.19,430.1h0.85v0.85h-0.85zM40.61,449.1h0.85v0.85h-0.85zM82.58,374.1h0.85v0.85h-0.85zM124.7,423.1h0.85v0.85h-0.85zM114.69,390.1h0.85v0.85h-0.85zM147.86,441.1h0.85v0.85h-0.85zM50.87,450.1h0.85v0.85h-0.85zM110.28,427.1h0.85v0.85h-0.85zM50.11,408.1h0.85v0.85h-0.85zM126.88,353.1h0.85v0.85h-0.85zM36.62,391.1h0.85v0.85h-0.85zM52.53,362.1h0.85v0.85h-0.85zM50.16,430.1h0.85v0.85h-0.85zM76.75,439.1h0.85v0.85h-0.85zM111.55,390.1h0.85v0.85h-0.85zM52.12,431.1h0.85v0.85h-0.85zM94.33,376.1h0.85v0.85h-0.85zM42.01,447.1h0.85v0.85h-0.85zM111.63,381.1h0.85v0.85h-0.85zM112.44,358.1h0.85v0.85h-0.85zM119.52,401.1h0.85v0.85h-0.85zM40.52,452.1h0.85v0.85h-0.85zM117.42,364.1h0.85v0.85h-0.85zM50.15,435.1h0.85v0.85h-0.85zM90.18,384.1h0.85v0.85h-0.85zM38.35,442.1h0.85v0.85h-0.85zM132.19,360.1h0.85v0.85h-0.85zM127.02,425.1h0.85v0.85h-0.85zM109.83,437.1h0.85v0.85h-0.85zM64.32,409.1h0.85v0.85h-0.85zM154.33,372.1h0.85v0.85h-0.85zM111.63,384.1h0.85v0.85h-0.85zM144.65,390.1h0.85v0.85h-0.85zM69.46,416.1h0.85v0.85h-0.85zM112.61,432.1h0.85v0.85h-0.85zM80.18,403.1h0.85v0.85h-0.85zM51.31,442.1h0.85v0.85h-0.85zM40,429.1h0.85v0.85h-0.85zM132.35,374.1h0.85v0.85h-0.85zM94.06,359.1h0.85v0.85h-0.85zM141.4,450.1h0.85v0.85h-0.85zM78.5,432.1h0.85v0.85h-0.85zM43.54,453.1h0.85v0.85h-0.85zM49.38,353.1h0.85v0.85h-0.85zM109.13,420.1h0.85v0.85h-0.85zM48.93,376.1h0.85v0.85h-0.85zM153.71,406.1h0.85v0.85h-0.85zM37.72,413.1h0.85v0.85h-0.85zM84.39,453.1h0.85v0.85h-0.85zM64.05,402.1h0.85v0.85h-0.85zM86.59,427.1h0.85v0.85h-0.85zM42.13,413.1h0.85v0.85h-0.85zM52.04,451.1h0.85v0.85h-0.85zM77.38,343.1h0.85v0.85h-0.85zM41.1,453.1h0.85v0.85h-0.85zM80.33,448.1h0.85v0.85h-0.85zM124.39,453.1h0.85v0.85h-0.85zM35.84,391.1h0.85v0.85h-0.85zM82.9,422.1h0.85v0.85h-0.85zM114.92,385.1h0.85v0.85h-0.85zM146.35,391.1h0.85v0.85h-0.85zM88.07,399.1h0.85v0.85h-0.85zM46.84,366.1h0.85v0.85h-0.85zM144.74,347.1h0.85v0.85h-0.85zM140.74,418.1h0.85v0.85h-0.85zM116.17,388.1h0.85v0.85h-0.85zM68.58,433.1h0.85v0.85h-0.85zM122.07,359.1h0.85v0.85h-0.85zM118.44,444.1h0.85v0.85h-0.85zM88.19,427.1h0.85v0.85h-0.85zM152.86,445.1h0.85v0.85h-0.85zM52.12,392.1h0.85v0.85h-0.85zM93.13,450.1h0.85v0.85h-0.85zM53.19,377.1h0.85v0.85h-0.85zM48.06,437.1h0.85v0.85h-0.85zM81,399.1h0.85v0.85h-0.85zM81.75,451.1h0.85v0.85h-0.85zM82.02,379.1h0.85v0.85h-0.85zM35.86,405.1h0.85v0.85h-0.85zM77.61,408.1h0.85v0.85h-0.85zM114.32,424.1h0.85v0.85h-0.85zM52.51,402.1h0.85v0.85h-0.85zM33.61,369.1h0.85v0.85h-0.85zM84.06,413.1h0.85v0.85h-0.85zM40.59,445.1h0.85v0.85h-0.85zM48.13,359.1h0.85v0.85h-0.85zM32.47,387.1h0.85v0.85h-0.85zM71.76,405.1h0.85v0.85h-0.85zM80.51,381.1h0.85v0.85h-0.85zM110.03,397.1h0.85v0.85h-0.85zM125.66,448.1h0.85v0.85h-0.85zM114.04,387.1h0.85v0.85h-0.85zM59.02,379.1h0.85v0.85h-0.85zM125.21,429.1h0.85v0.85h-0.85zM146.61,456.1h0.85v0.85h-0.85zM38.28,350.1h0.85v0.85h-0.85zM63.21,380.1h0.85v0.85h-0.85zM66.46,421.1h0.85v0.85h-0.85zM47.45,418.1h0.85v0.85h-0.85zM58.76,456.1h0.85v0.85h-0.85zM70.63,452.1h0.85v0.85h-0.85zM79.5,347.1h0.85v0.85h-0.85zM45.2,381.1h0.85v0.85h-0.85zM60.13,444.1h0.85v0.85h-0.85zM79.13,404.1h0.85v0.85h-0.85zM130.98,354.1h0.85v0.85h-0.85zM54.52,445.1h0.85v0.85h-0.85zM54.74,372.1h0.85v0.85h-0.85zM120.34,352.1h0.85v0.85h-0.85zM129.44,350.1h0.85v0.85h-0.85zM117.23,396.1h0.85v0.85h-0.85zM80.23,356.1h0.85v0.85h-0.85zM147.78,423.1h0.85v0.85h-0.85zM81.41,396.1h0.85v0.85h-0.85zM88.45,383.1h0.85v0.85h-0.85zM110.65,382.1h0.85v0.85h-0.85zM51.1,343.1h0.85v0.85h-0.85zM112.32,414.1h0.85v0.85h-0.85zM108.03,453.1h0.85v0.85h-0.85zM96.1,450.1h0.85v0.85h-0.85zM95.04,389.1h0.85v0.85h-0.85zM64.44,369.1h0.85v0.85h-0.85zM52.66,401.1h0.85v0.85h-0.85zM120.59,422.1h0.85v0.85h-0.85zM111.32,445.1h0.85v0.85h-0.85zM34.86,354.1h0.85v0.85h-0.85zM65.13,379.1h0.85v0.85h-0.85zM155.2,428.1h0.85v0.85h-0.85zM52.04,376.1h0.85v0.85h-0.85zM60.67,349.1h0.85v0.85h-0.85zM77.28,452.1h0.85v0.85h-0.85zM46.59,407.1h0.85v0.85h-0.85zM148.58,342.1h0.85v0.85h-0.85zM110.27,370.1h0.85v0.85h-0.85zM79.96,415.1h0.85v0.85h-0.85zM67.8,368.1h0.85v0.85h-0.85zM72.96,405.1h0.85v0.85h-0.85zM39.32,438.1h0.85v0.85h-0.85zM111.23,390.1h0.85v0.85h-0.85zM122.98,446.1h0.85v0.85h-0.85zM59.38,356.1h0.85v0.85h-0.85zM62.45,452.1h0.85v0.85h-0.85zM91.68,405.1h0.85v0.85h-0.85zM37.89,408.1h0.85v0.85h-0.85zM68.1,440.1h0.85v0.85h-0.85zM154.53,450.1h0.85v0.85h-0.85zM145.07,355.1h0.85v0.85h-0.85zM154.47,412.1h0.85v0.85h-0.85zM52.01,366.1h0.85v0.85h-0.85zM118.6,363.1h0.85v0.85h-0.85zM111.89,345.1h0.85v0.85h-0.85zM86.62,400.1h0.85v0.85h-0.85zM72.21,369.1h0.85v0.85h-0.85zM110.05,355.1h0.85v0.85h-0.85zM109.51,414.1h0.85v0.85h-0.85zM153.24,446.1h0.85v0.85h-0.85zM92.09,443.1h0.85v0.85h-0.85zM109.43,448.1h0.85v0.85h-0.85zM45.55,442.1h0.85v0.85h-0.85zM148.88,366.1h0.85v0.85h-0.85zM75.61,394.1h0.85v0.85h-0.85zM37.87,369.1h0.85v0.85h-0.85zM142.99,406.1h0.85v0.85h-0.85zM61.79,387.1h0.85v0.85h-0.85zM124.76,389.1h0.85v0.85h-0.85zM146.21,424.1h0.85v0.85h-0.85zM50.23,421.1h0.85v0.85h-0.85zM81.57,390.1h0.85v0.85h-0.85zM71.19,355.1h0.85v0.85h-0.85zM94.66,456.1h0.85v0.85h-0.85zM36.55,386.1h0.85v0.85h-0.85zM111.55,354.1h0.85v0.85h-0.85zM123.72,444.1h0.85v0.85h-0.85zM87.45,436.1h0.85v0.85h-0.85zM70.44,406.1h0.85v0.85h-0.85zM75.31,408.1h0.85v0.85h-0.85zM42.09,389.1h0.85v0.85h-0.85zM58.33,420.1h0.85v0.85h-0.85zM60.05,451.1h0.85v0.85h-0.85zM112.97,350.1h0.85v0.85h-0.85zM65.01,416.1h0.85v0.85h-0.85zM92.19,405.1h0.85v0.85h-0.85zM36.67,422.1h0.85v0.85h-0.85zM40.63,345.1h0.85v0.85h-0.85zM77.54,401.1h0.85v0.85h-0.85zM63.94,374.1h0.85v0.85h-0.85zM56.58,369.1h0.85v0.85h-0.85zM70.33,345.1h0.85v0.85h-0.85zM33.24,357.1h0.85v0.85h-0.85zM84.25,382.1h0.85v0.85h-0.85zM54.16,386.1h0.85v0.85h-0.85zM129.32,360.1h0.85v0.85h-0.85zM148.64,397.1h0.85v0.85h-0.85zM45.95,431.1h0.85v0.85h-0.85zM75.46,352.1h0.85v0.85h-0.85zM67.4,421.1h0.85v0.85h-0.85zM137.83,450.1h0.85v0.85h-0.85zM153.41,368.1h0.85v0.85h-0.85zM141.15,401.1h0.85v0.85h-0.85zM66.34,357.1h0.85v0.85h-0.85zM70.36,451.1h0.85v0.85h-0.85zM151.33,369.1h0.85v0.85h-0.85zM45.93,449.1h0.85v0.85h-0.85zM111.13,439.1h0.85v0.85h-0.85zM88.03,379.1h0.85v0.85h-0.85zM75.95,397.1h0.85v0.85h-0.85zM81.43,455.1h0.85v0.85h-0.85zM138.39,425.1h0.85v0.85h-0.85zM80.84,366.1h0.85v0.85h-0.85zM108.52,393.1h0.85v0.85h-0.85zM86.46,388.1h0.85v0.85h-0.85zM65.07,399.1h0.85v0.85h-0.85zM127.58,445.1h0.85v0.85h-0.85zM59.81,370.1h0.85v0.85h-0.85zM142.38,435.1h0.85v0.85h-0.85zM41.71,428.1h0.85v0.85h-0.85zM69.79,447.1h0.85v0.85h-0.85zM128.06,400.1h0.85v0.85h-0.85zM125.32,455.1h0.85v0.85h-0.85zM37.85,355.1h0.85v0.85h-0.85zM111.42,384.1h0.85v0.85h-0.85zM134.7,415.1h0.85v0.85h-0.85zM44.06,443.1h0.85v0.85h-0.85zM84.42,437.1h0.85v0.85h-0.85zM67.35,450.1h0.85v0.85h-0.85zM68.02,379.1h0.85v0.85h-0.85zM90.99,444.1h0.85v0.85h-0.85zM39.2,442.1h0.85v0.85h-0.85zM66.78,425.1h0.85v0.85h-0.85zM155.82,343.1h0.85v0.85h-0.85zM61.15,456.1h0.85v0.85h-0.85zM114.77,425.1h0.85v0.85h-0.85zM96.24,449.1h0.85v0.85h-0.85zM110.46,351.1h0.85v0.85h-0.85zM112.2,411.1h0.85v0.85h-0.85zM42.6,436.1h0.85v0.85h-0.85zM42.39,455.1h0.85v0.85h-0.85zM60.81,346.1h0.85v0.85h-0.85zM88.53,450.1h0.85v0.85h-0.85zM60.89,348.1h0.85v0.85h-0.85zM108.26,381.1h0.85v0.85h-0.85zM71.93,404.1h0.85v0.85h-0.85zM91.36,409.1h0.85v0.85h-0.85zM105.31,367.1h0.85v0.85h-0.85zM63.79,393.1h0.85v0.85h-0.85zM72.94,412.1h0.85v0.85h-0.85zM83.87,367.1h0.85v0.85h-0.85zM71.01,437.1h0.85v0.85h-0.85zM45.91,392.1h0.85v0.85h-0.85zM96.66,402.1h0.85v0.85h-0.85zM118.04,359.1h0.85v0.85h-0.85zM109.9,409.1h0.85v0.85h-0.85zM81.3,353.1h0.85v0.85h-0.85zM154.37,411.1h0.85v0.85h-0.85zM69.32,445.1h0.85v0.85h-0.85zM82.96,446.1h0.85v0.85h-0.85zM130.39,355.1h0.85v0.85h-0.85zM84.99,439.1h0.85v0.85h-0.85zM113,379.1h0.85v0.85h-0.85zM110.89,352.1h0.85v0.85h-0.85zM70.41,347.1h0.85v0.85h-0.85zM81.24,399.1h0.85v0.85h-0.85zM91.78,385.1h0.85v0.85h-0.85zM140.22,436.1h0.85v0.85h-0.85zM116.65,358.1h0.85v0.85h-0.85zM111.29,424.1h0.85v0.85h-0.85zM72.23,401.1h0.85v0.85h-0.85zM141.53,455.1h0.85v0.85h-0.85zM156.38,413.1h0.85v0.85h-0.85zM72.68,378.1h0.85v0.85h-0.85zM152.95,383.1h0.85v0.85h-0.85zM115.83,456.1h0.85v0.85h-0.85zM127.13,404.1h0.85v0.85h-0.85zM69.6,454.1h0.85v0.85h-0.85zM58.01,424.1h0.85v0.85h-0.85zM124.63,417.1h0.85v0.85h-0.85zM83.23,421.1h0.85v0.85h-0.85zM113.28,454.1h0.85v0.85h-0.85zM76.41,432.1h0.85v0.85h-0.85zM123.63,420.1h0.85v0.85h-0.85zM83.34,429.1h0.85v0.85h-0.85zM95.68,350.1h0.85v0.85h-0.85zM119.33,455.1h0.85v0.85h-0.85zM133.53,395.1h0.85v0.85h-0.85zM75.1,367.1h0.85v0.85h-0.85zM123.19,362.1h0.85v0.85h-0.85zM92.89,448.1h0.85v0.85h-0.85zM135.84,367.1h0.85v0.85h-0.85zM70.57,394.1h0.85v0.85h-0.85zM84.54,453.1h0.85v0.85h-0.85zM59.2,414.1h0.85v0.85h-0.85zM92.75,401.1h0.85v0.85h-0.85zM128.13,447.1h0.85v0.85h-0.85zM67.72,456.1h0.85v0.85h-0.85zM42.35,383.1h0.85v0.85h-0.85zM112.81,451.1h0.85v0.85h-0.85zM76.4,426.1h0.85v0.85h-0.85zM137.6,363.1h0.85v0.85h-0.85zM34.11,448.1h0.85v0.85h-0.85zM144.48,357.1h0.85v0.85h-0.85zM86.51,452.1h0.85v0.85h-0.85zM136.15,441.1h0.85v0.85h-0.85zM39.5,363.1h0.85v0.85h-0.85zM61.31,452.1h0.85v0.85h-0.85zM89.89,346.1h0.85v0.85h-0.85zM69.96,364.1h0.85v0.85h-0.85zM54.99,449.1h0.85v0.85h-0.85zM118.36,445.1h0.85v0.85h-0.85zM83.85,357.1h0.85v0.85h-0.85zM82.17,405.1h0.85v0.85h-0.85zM81.11,365.1h0.85v0.85h-0.85zM111.51,412.1h0.85v0.85h-0.85zM138.41,404.1h0.85v0.85h-0.85zM145.47,452.1h0.85v0.85h-0.85zM48.74,448.1h0.85v0.85h-0.85zM59.1,437.1h0.85v0.85h-0.85zM150.63,438.1h0.85v0.85h-0.85zM85.68,404.1h0.85v0.85h-0.85zM129.14,379.1h0.85v0.85h-0.85zM95.82,351.1h0.85v0.85h-0.85zM133.78,430.1h0.85v0.85h-0.85zM55.59,452.1h0.85v0.85h-0.85zM75.71,413.1h0.85v0.85h-0.85zM61.8,401.1h0.85v0.85h-0.85zM82.95,394.1h0.85v0.85h-0.85zM61.61,455.1h0.85v0.85h-0.85zM36.33,438.1h0.85v0.85h-0.85zM110.7,425.1h0.85v0.85h-0.85zM111.08,430.1h0.85v0.85h-0.85zM80.18,369.1h0.85v0.85h-0.85zM57.2,365.1h0.85v0.85h-0.85zM149.17,370.1h0.85v0.85h-0.85zM81.36,356.1h0.85v0.85h-0.85zM108.11,381.1h0.85v0.85h-0.85zM113.36,429.1h0.85v0.85h-0.85zM108.82,419.1h0.85v0.85h-0.85zM113.85,411.1h0.85v0.85h-0.85zM59.35,418.1h0.85v0.85h-0.85zM61.84,435.1h0.85v0.85h-0.85zM140.44,383.1h0.85v0.85h-0.85zM66.97,431.1h0.85v0.85h-0.85zM116.67,442.1h0.85v0.85h-0.85zM91.5,424.1h0.85v0.85h-0.85zM128.02,445.1h0.85v0.85h-0.85zM34.31,389.1h0.85v0.85h-0.85zM149.97,397.1h0.85v0.85h-0.85zM63.51,420.1h0.85v0.85h-0.85zM95.93,434.1h0.85v0.85h-0.85zM113.83,412.1h0.85v0.85h-0.85zM93.11,377.1h0.85v0.85h-0.85zM154.2,377.1h0.85v0.85h-0.85zM54.8,366.1h0.85v0.85h-0.85zM49.66,373.1h0.85v0.85h-0.85zM136.17,449.1h0.85v0.85h-0.85zM49.75,385.1h0.85v0.85h-0.85zM41.32,442.1h0.85v0.85h-0.85zM111.89,394.1h0.85v0.85h-0.85zM146.62,429.1h0.85v0.85h-0.85zM145.34,408.1h0.85v0.85h-0.85zM91.28,400.1h0.85v0.85h-0.85zM81.3,415.1h0.85v0.85h-0.85zM113.49,342.1h0.85v0.85h-0.85zM113.59,455.1h0.85v0.85h-0.85zM49.87,345.1h0.85v0.85h-0.85zM113.09,411.1h0.85v0.85h-0.85zM130.88,350.1h0.85v0.85h-0.85zM109.82,444.1h0.85v0.85h-0.85zM130.01,430.1h0.85v0.85h-0.85zM121.15,457.1h0.85v0.85h-0.85zM124.55,409.1h0.85v0.85h-0.85zM133.58,372.1h0.85v0.85h-0.85zM147.35,457.1h0.85v0.85h-0.85zM61.84,372.1h0.85v0.85h-0.85zM49.06,456.1h0.85v0.85h-0.85zM111.33,386.1h0.85v0.85h-0.85zM85.14,348.1h0.85v0.85h-0.85zM110.12,347.1h0.85v0.85h-0.85zM138.85,361.1h0.85v0.85h-0.85zM120.89,413.1h0.85v0.85h-0.85zM63.66,348.1h0.85v0.85h-0.85zM109.94,399.1h0.85v0.85h-0.85zM68.78,402.1h0.85v0.85h-0.85zM142.69,448.1h0.85v0.85h-0.85zM50.14,361.1h0.85v0.85h-0.85zM114.14,438.1h0.85v0.85h-0.85zM81.29,354.1h0.85v0.85h-0.85zM45.01,457.1h0.85v0.85h-0.85zM43.86,448.1h0.85v0.85h-0.85zM94.54,351.1h0.85v0.85h-0.85zM66.98,425.1h0.85v0.85h-0.85zM70.9,449.1h0.85v0.85h-0.85zM51.57,365.1h0.85v0.85h-0.85zM117.95,421.1h0.85v0.85h-0.85zM125.38,413.1h0.85v0.85h-0.85zM67.86,409.1h0.85v0.85h-0.85zM118.19,437.1h0.85v0.85h-0.85zM112.99,419.1h0.85v0.85h-0.85zM76.45,405.1h0.85v0.85h-0.85zM74.71,407.1h0.85v0.85h-0.85zM127.4,408.1h0.85v0.85h-0.85zM119.18,400.1h0.85v0.85h-0.85zM150.08,423.1h0.85v0.85h-0.85zM84.38,391.1h0.85v0.85h-0.85zM63.39,403.1h0.85v0.85h-0.85zM113.13,425.1h0.85v0.85h-0.85zM68.59,423.1h0.85v0.85h-0.85zM133.12,394.1h0.85v0.85h-0.85zM146.82,445.1h0.85v0.85h-0.85zM43.7,383.1h0.85v0.85h-0.85zM140.23,445.1h0.85v0.85h-0.85zM91.58,453.1h0.85v0.85h-0.85zM62.44,447.1h0.85v0.85h-0.85zM148.89,379.1h0.85v0.85h-0.85zM111.32,357.1h0.85v0.85h-0.85zM125.54,381.1h0.85v0.85h-0.85zM47.32,371.1h0.85v0.85h-0.85zM68.21,389.1h0.85v0.85h-0.85zM48.06,391.1h0.85v0.85h-0.85zM148.24,358.1h0.85v0.85h-0.85zM50.41,420.1h0.85v0.85h-0.85zM92.36,364.1h0.85v0.85h-0.85zM64.32,368.1h0.85v0.85h-0.85zM79.54,383.1h0.85v0.85h-0.85zM37.87,437.1h0.85v0.85h-0.85zM40.84,386.1h0.85v0.85h-0.85zM110.94,431.1h0.85v0.85h-0.85zM142.89,369.1h0.85v0.85h-0.85zM113.73,379.1h0.85v0.85h-0.85zM130.73,456.1h0.85v0.85h-0.85zM109.53,403.1h0.85v0.85h-0.85zM64.27,438.1h0.85v0.85h-0.85zM75.08,384.1h0.85v0.85h-0.85zM38.59,447.1h0.85v0.85h-0.85zM126.69,441.1h0.85v0.85h-0.85zM145.36,448.1h0.85v0.85h-0.85zM111.78,389.1h0.85v0.85h-0.85zM64.94,448.1h0.85v0.85h-0.85zM88.95,375.1h0.85v0.85h-0.85zM113.67,440.1h0.85v0.85h-0.85zM126.88,356.1h0.85v0.85h-0.85zM155.53,379.1h0.85v0.85h-0.85zM111.37,451.1h0.85v0.85h-0.85zM42.65,382.1h0.85v0.85h-0.85zM87.84,430.1h0.85v0.85h-0.85zM60.73,343.1h0.85v0.85h-0.85zM85.57,371.1h0.85v0.85h-0.85zM144.68,454.1h0.85v0.85h-0.85zM146.19,394.1h0.85v0.85h-0.85zM91.38,447.1h0.85v0.85h-0.85zM82.06,457.1h0.85v0.85h-0.85zM139.5,421.1h0.85v0.85h-0.85zM132.72,439.1h0.85v0.85h-0.85zM87.05,447.1h0.85v0.85h-0.85zM37.46,361.1h0.85v0.85h-0.85zM81.57,436.1h0.85v0.85h-0.85zM68.3,441.1h0.85v0.85h-0.85zM131.21,369.1h0.85v0.85h-0.85zM72.39,401.1h0.85v0.85h-0.85zM57.73,345.1h0.85v0.85h-0.85zM35.43,356.1h0.85v0.85h-0.85zM112.8,397.1h0.85v0.85h-0.85zM60.74,439.1h0.85v0.85h-0.85zM87.91,403.1h0.85v0.85h-0.85zM33.36,425.1h0.85v0.85h-0.85zM35.98,420.1h0.85v0.85h-0.85zM38.76,418.1h0.85v0.85h-0.85zM152.94,350.1h0.85v0.85h-0.85zM134.59,458.1h0.85v0.85h-0.85zM68.63,385.1h0.85v0.85h-0.85zM113.59,398.1h0.85v0.85h-0.85zM68.27,426.1h0.85v0.85h-0.85zM59.72,382.1h0.85v0.85h-0.85zM54.01,367.1h0.85v0.85h-0.85zM71.83,351.1h0.85v0.85h-0.85zM67.19,344.1h0.85v0.85h-0.85zM46.6,349.1h0.85v0.85h-0.85zM90.5,365.1h0.85v0.85h-0.85zM109.86,446.1h0.85v0.85h-0.85zM69.61,444.1h0.85v0.85h-0.85zM114.71,398.1h0.85v0.85h-0.85zM47.69,390.1h0.85v0.85h-0.85zM110.19,412.1h0.85v0.85h-0.85zM114.65,434.1h0.85v0.85h-0.85zM113.85,413.1h0.85v0.85h-0.85zM73.29,405.1h0.85v0.85h-0.85zM115.47,370.1h0.85v0.85h-0.85zM91.85,361.1h0.85v0.85h-0.85zM137.35,449.1h0.85v0.85h-0.85zM131.51,350.1h0.85v0.85h-0.85zM118.86,436.1h0.85v0.85h-0.85zM43.27,431.1h0.85v0.85h-0.85zM79.88,415.1h0.85v0.85h-0.85zM82.03,387.1h0.85v0.85h-0.85zM87.89,425.1h0.85v0.85h-0.85zM79.34,447.1h0.85v0.85h-0.85zM113.93,417.1h0.85v0.85h-0.85zM108.05,448.1h0.85v0.85h-0.85zM136.8,415.1h0.85v0.85h-0.85zM114.72,452.1h0.85v0.85h-0.85zM134.89,448.1h0.85v0.85h-0.85zM95.77,362.1h0.85v0.85h-0.85zM102.26,368.1h0.85v0.85h-0.85zM32.46,409.1h0.85v0.85h-0.85zM81.76,350.1h0.85v0.85h-0.85zM110.85,427.1h0.85v0.85h-0.85zM113.8,360.1h0.85v0.85h-0.85zM114.65,362.1h0.85v0.85h-0.85zM67.48,384.1h0.85v0.85h-0.85zM134.86,395.1h0.85v0.85h-0.85zM90.2,378.1h0.85v0.85h-0.85zM53.59,387.1h0.85v0.85h-0.85zM85.16,458.1h0.85v0.85h-0.85zM114.92,374.1h0.85v0.85h-0.85zM111.39,403.1h0.85v0.85h-0.85zM44.84,391.1h0.85v0.85h-0.85zM87.5,450.1h0.85v0.85h-0.85zM66.73,456.1h0.85v0.85h-0.85zM69.67,394.1h0.85v0.85h-0.85zM83.69,385.1h0.85v0.85h-0.85zM134.14,411.1h0.85v0.85h-0.85zM145.91,457.1h0.85v0.85h-0.85zM72.27,425.1h0.85v0.85h-0.85zM112.85,376.1h0.85v0.85h-0.85zM110.58,362.1h0.85v0.85h-0.85zM110.85,414.1h0.85v0.85h-0.85zM81.34,407.1h0.85v0.85h-0.85zM41.88,446.1h0.85v0.85h-0.85zM39.52,363.1h0.85v0.85h-0.85zM76.1,457.1h0.85v0.85h-0.85zM74.63,436.1h0.85v0.85h-0.85zM78.41,455.1h0.85v0.85h-0.85zM90.61,450.1h0.85v0.85h-0.85zM145.63,455.1h0.85v0.85h-0.85zM54.02,374.1h0.85v0.85h-0.85zM35.18,456.1h0.85v0.85h-0.85zM42.39,377.1h0.85v0.85h-0.85zM114.54,360.1h0.85v0.85h-0.85zM136.69,397.1h0.85v0.85h-0.85zM124.21,356.1h0.85v0.85h-0.85zM146.5,397.1h0.85v0.85h-0.85zM131.88,355.1h0.85v0.85h-0.85zM90.78,446.1h0.85v0.85h-0.85zM111.05,379.1h0.85v0.85h-0.85zM41.04,445.1h0.85v0.85h-0.85zM66.2,414.1h0.85v0.85h-0.85zM67.1,422.1h0.85v0.85h-0.85zM38.11,352.1h0.85v0.85h-0.85zM124.81,413.1h0.85v0.85h-0.85zM83.03,448.1h0.85v0.85h-0.85zM40.41,418.1h0.85v0.85h-0.85zM48.97,422.1h0.85v0.85h-0.85zM122.09,443.1h0.85v0.85h-0.85zM95.4,349.1h0.85v0.85h-0.85zM73.37,372.1h0.85v0.85h-0.85zM89.12,381.1h0.85v0.85h-0.85zM34.1,386.1h0.85v0.85h-0.85zM112.55,345.1h0.85v0.85h-0.85zM123.18,400.1h0.85v0.85h-0.85zM87.86,447.1h0.85v0.85h-0.85zM59.14,447.1h0.85v0.85h-0.85zM34.19,420.1h0.85v0.85h-0.85zM143.67,421.1h0.85v0.85h-0.85zM126.37,407.1h0.85v0.85h-0.85zM66,407.1h0.85v0.85h-0.85zM142.81,351.1h0.85v0.85h-0.85zM122.16,451.1h0.85v0.85h-0.85zM131.74,454.1h0.85v0.85h-0.85zM142.07,412.1h0.85v0.85h-0.85zM109.77,424.1h0.85v0.85h-0.85zM36.89,433.1h0.85v0.85h-0.85zM84.82,353.1h0.85v0.85h-0.85zM57.33,449.1h0.85v0.85h-0.85zM133.91,454.1h0.85v0.85h-0.85zM34.3,396.1h0.85v0.85h-0.85zM60.95,383.1h0.85v0.85h-0.85zM54.31,376.1h0.85v0.85h-0.85zM144.39,367.1h0.85v0.85h-0.85zM90.41,413.1h0.85v0.85h-0.85zM47.82,444.1h0.85v0.85h-0.85zM34.39,452.1h0.85v0.85h-0.85zM142.71,444.1h0.85v0.85h-0.85zM91.05,349.1h0.85v0.85h-0.85zM150.91,347.1h0.85v0.85h-0.85zM33.82,424.1h0.85v0.85h-0.85zM83.79,342.1h0.85v0.85h-0.85zM69.13,412.1h0.85v0.85h-0.85zM88.32,431.1h0.85v0.85h-0.85zM109.91,366.1h0.85v0.85h-0.85zM132.77,374.1h0.85v0.85h-0.85zM46.79,343.1h0.85v0.85h-0.85zM65.21,382.1h0.85v0.85h-0.85zM75.57,419.1h0.85v0.85h-0.85zM79.93,353.1h0.85v0.85h-0.85zM154.15,400.1h0.85v0.85h-0.85zM34.24,428.1h0.85v0.85h-0.85zM49.38,406.1h0.85v0.85h-0.85zM112.65,359.1h0.85v0.85h-0.85zM69.4,390.1h0.85v0.85h-0.85zM68.12,403.1h0.85v0.85h-0.85zM149.87,408.1h0.85v0.85h-0.85zM50.37,362.1h0.85v0.85h-0.85zM40.71,453.1h0.85v0.85h-0.85zM89.17,401.1h0.85v0.85h-0.85zM75.21,387.1h0.85v0.85h-0.85zM43.26,361.1h0.85v0.85h-0.85zM44.5,347.1h0.85v0.85h-0.85zM132.23,380.1h0.85v0.85h-0.85zM83.52,447.1h0.85v0.85h-0.85zM52.9,348.1h0.85v0.85h-0.85zM46.45,358.1h0.85v0.85h-0.85zM116.44,452.1h0.85v0.85h-0.85zM89.96,357.1h0.85v0.85h-0.85zM63.22,346.1h0.85v0.85h-0.85zM135.18,458.1h0.85v0.85h-0.85zM138.63,454.1h0.85v0.85h-0.85zM63.67,425.1h0.85v0.85h-0.85zM46.49,455.1h0.85v0.85h-0.85zM77.14,425.1h0.85v0.85h-0.85zM88.98,450.1h0.85v0.85h-0.85zM58.95,415.1h0.85v0.85h-0.85zM71.89,400.1h0.85v0.85h-0.85zM114.94,396.1h0.85v0.85h-0.85zM110.79,425.1h0.85v0.85h-0.85zM59.51,367.1h0.85v0.85h-0.85zM81.99,450.1h0.85v0.85h-0.85zM118.2,342.1h0.85v0.85h-0.85zM111.51,386.1h0.85v0.85h-0.85zM127.87,403.1h0.85v0.85h-0.85zM155.38,415.1h0.85v0.85h-0.85zM111.68,367.1h0.85v0.85h-0.85zM64.21,353.1h0.85v0.85h-0.85zM111.57,364.1h0.85v0.85h-0.85zM132.61,373.1h0.85v0.85h-0.85zM79.99,388.1h0.85v0.85h-0.85zM35.14,429.1h0.85v0.85h-0.85zM76.7,426.1h0.85v0.85h-0.85zM129.04,382.1h0.85v0.85h-0.85zM88.68,378.1h0.85v0.85h-0.85zM76.17,348.1h0.85v0.85h-0.85zM88.09,366.1h0.85v0.85h-0.85zM112.17,414.1h0.85v0.85h-0.85zM125.45,440.1h0.85v0.85h-0.85zM86.76,388.1h0.85v0.85h-0.85zM124.5,350.1h0.85v0.85h-0.85zM40.59,419.1h0.85v0.85h-0.85zM68.04,453.1h0.85v0.85h-0.85zM146.32,422.1h0.85v0.85h-0.85zM87.72,434.1h0.85v0.85h-0.85zM61.21,373.1h0.85v0.85h-0.85zM113.8,413.1h0.85v0.85h-0.85zM128.19,384.1h0.85v0.85h-0.85zM59.54,404.1h0.85v0.85h-0.85zM98.21,408.1h0.85v0.85h-0.85zM66.12,379.1h0.85v0.85h-0.85zM64.19,411.1h0.85v0.85h-0.85zM126.99,400.1h0.85v0.85h-0.85zM110.4,444.1h0.85v0.85h-0.85zM96.42,439.1h0.85v0.85h-0.85zM93.38,407.1h0.85v0.85h-0.85zM121.6,357.1h0.85v0.85h-0.85zM56.96,434.1h0.85v0.85h-0.85zM65.32,355.1h0.85v0.85h-0.85zM113.17,362.1h0.85v0.85h-0.85zM39.81,448.1h0.85v0.85h-0.85zM44.92,407.1h0.85v0.85h-0.85zM129.88,456.1h0.85v0.85h-0.85zM55.41,418.1h0.85v0.85h-0.85zM74.6,434.1h0.85v0.85h-0.85zM90.66,397.1h0.85v0.85h-0.85zM55.34,374.1h0.85v0.85h-0.85zM69.45,362.1h0.85v0.85h-0.85zM115.19,387.1h0.85v0.85h-0.85zM76.46,442.1h0.85v0.85h-0.85zM46.51,458.1h0.85v0.85h-0.85zM85.29,449.1h0.85v0.85h-0.85zM86.42,454.1h0.85v0.85h-0.85zM82.07,433.1h0.85v0.85h-0.85zM81.5,406.1h0.85v0.85h-0.85zM43.78,437.1h0.85v0.85h-0.85zM127.34,445.1h0.85v0.85h-0.85zM53.14,432.1h0.85v0.85h-0.85zM136.1,414.1h0.85v0.85h-0.85zM49.71,386.1h0.85v0.85h-0.85zM63.87,359.1h0.85v0.85h-0.85zM76.34,403.1h0.85v0.85h-0.85zM61.37,456.1h0.85v0.85h-0.85zM110.96,445.1h0.85v0.85h-0.85zM90.63,396.1h0.85v0.85h-0.85zM49.62,399.1h0.85v0.85h-0.85zM77.44,405.1h0.85v0.85h-0.85zM74.76,419.1h0.85v0.85h-0.85zM73.32,403.1h0.85v0.85h-0.85zM47.44,431.1h0.85v0.85h-0.85zM121.37,372.1h0.85v0.85h-0.85zM127.69,457.1h0.85v0.85h-0.85zM129.72,382.1h0.85v0.85h-0.85zM57.61,422.1h0.85v0.85h-0.85zM51.3,448.1h0.85v0.85h-0.85zM150.6,373.1h0.85v0.85h-0.85zM55.29,457.1h0.85v0.85h-0.85zM70.6,451.1h0.85v0.85h-0.85zM56.27,374.1h0.85v0.85h-0.85zM39.66,364.1h0.85v0.85h-0.85zM86.26,344.1h0.85v0.85h-0.85zM43.86,381.1h0.85v0.85h-0.85zM34.53,430.1h0.85v0.85h-0.85zM83.88,457.1h0.85v0.85h-0.85zM115.08,341.1h0.85v0.85h-0.85zM73.6,435.1h0.85v0.85h-0.85zM34.82,424.1h0.85v0.85h-0.85zM136.96,381.1h0.85v0.85h-0.85zM89.27,449.1h0.85v0.85h-0.85zM90.41,450.1h0.85v0.85h-0.85zM111.11,404.1h0.85v0.85h-0.85zM133.07,359.1h0.85v0.85h-0.85zM73.74,446.1h0.85v0.85h-0.85zM33.19,427.1h0.85v0.85h-0.85zM137.43,409.1h0.85v0.85h-0.85zM91.31,362.1h0.85v0.85h-0.85zM110.39,429.1h0.85v0.85h-0.85zM81.9,394.1h0.85v0.85h-0.85zM69.3,380.1h0.85v0.85h-0.85zM127.04,387.1h0.85v0.85h-0.85zM88.4,389.1h0.85v0.85h-0.85zM75.48,423.1h0.85v0.85h-0.85zM86.8,401.1h0.85v0.85h-0.85zM152.33,447.1h0.85v0.85h-0.85zM113.91,442.1h0.85v0.85h-0.85zM48.98,446.1h0.85v0.85h-0.85zM112.15,384.1h0.85v0.85h-0.85zM119.8,454.1h0.85v0.85h-0.85zM75.39,452.1h0.85v0.85h-0.85zM66.67,436.1h0.85v0.85h-0.85zM114.72,440.1h0.85v0.85h-0.85zM119.42,379.1h0.85v0.85h-0.85zM132.8,407.1h0.85v0.85h-0.85zM117.39,389.1h0.85v0.85h-0.85z" fill="#bababa"/>
<rect x="31.2" y="340.9" width="126.7" height="119.3" fill="none" stroke="#111" stroke-width="1.6"/>
<line x1="29" y1="460.2" x2="31.2" y2="460.2" stroke="#000" stroke-width="1"/>
<line x1="29" y1="440.32" x2="31.2" y2="440.32" stroke="#000" stroke-width="1"/>
<line x1="29" y1="420.43" x2="31.2" y2="420.43" stroke="#000" stroke-width="1"/>
<line x1="29" y1="400.55" x2="31.2" y2="400.55" stroke="#000" stroke-width="1"/>
<line x1="29" y1="380.67" x2="31.2" y2="380.67" stroke="#000" stroke-width="1"/>
<line x1="29" y1="360.78" x2="31.2" y2="360.78" stroke="#000" stroke-width="1"/>
<line x1="29" y1="340.9" x2="31.2" y2="340.9" stroke="#000" stroke-width="1"/>
<text x="18.75" y="463.75" font-size="10.71" fill="#111" stroke="#111" textLength="6.26" lengthAdjust="spacingAndGlyphs">0</text>
<text x="13.6" y="424.85" font-size="10.71" fill="#111" stroke="#111" textLength="11.33" lengthAdjust="spacingAndGlyphs">40</text>
<text x="13.38" y="385.75" font-size="10.71" fill="#111" stroke="#111" textLength="11.55" lengthAdjust="spacingAndGlyphs">80</text>
<text x="7.56" y="346.55" font-size="10.71" fill="#111" stroke="#111" textLength="17.44" lengthAdjust="spacingAndGlyphs">120</text>
<line x1="43.87" y1="460.2" x2="43.87" y2="462.4" stroke="#000" stroke-width="1"/>
<text x="30.32" y="471.7" font-size="10.86" fill="#111" stroke="#111" textLength="20.22" lengthAdjust="spacingAndGlyphs">-400</text>
<line x1="69.21" y1="460.2" x2="69.21" y2="462.4" stroke="#000" stroke-width="1"/>
<text x="55.66" y="471.7" font-size="10.86" fill="#111" stroke="#111" textLength="20.22" lengthAdjust="spacingAndGlyphs">-200</text>
<line x1="94.55" y1="460.2" x2="94.55" y2="462.4" stroke="#000" stroke-width="1"/>
<text x="89.14" y="471.7" font-size="10.86" fill="#111" stroke="#111" textLength="6.37" lengthAdjust="spacingAndGlyphs">0</text>
<line x1="119.89" y1="460.2" x2="119.89" y2="462.4" stroke="#000" stroke-width="1"/>
<text x="108.92" y="471.7" font-size="10.86" fill="#111" stroke="#111" textLength="17.42" lengthAdjust="spacingAndGlyphs">200</text>
<line x1="145.23" y1="460.2" x2="145.23" y2="462.4" stroke="#000" stroke-width="1"/>
<text x="134.58" y="471.7" font-size="10.86" fill="#111" stroke="#111" textLength="17.1" lengthAdjust="spacingAndGlyphs">400</text>
<text x="67.56" y="485.7" font-size="13.48" fill="#111" stroke="#111" textLength="52.91" lengthAdjust="spacingAndGlyphs">Time [ms]</text>
<text x="0" y="0" font-size="10.58" fill="#111" stroke="#111" textLength="37.15" lengthAdjust="spacingAndGlyphs" transform="translate(9.7,417.5) rotate(-90)">Trials [#]</text>
<path d="M402.95,404.1h0.85v0.85h-0.85zM395.34,425.1h0.85v0.85h-0.85zM394.1,410.1h0.85v0.85h-0.85zM415.22,429.1h0.85v0.85h-0.85zM400.44,411.1h0.85v0.85h-0.85zM454.9,455.1h0.85v0.85h-0.85zM486.73,394.1h0.85v0.85h-0.85zM403.94,371.1h0.85v0.85h-0.85zM395.16,420.1h0.85v0.85h-0.85zM486.14,409.1h0.85v0.85h-0.85zM379.87,411.1h0.85v0.85h-0.85zM422.42,433.1h0.85v0.85h-0.85zM399.06,369.1h0.85v0.85h-0.85zM453.81,389.1h0.85v0.85h-0.85zM468.32,453.1h0.85v0.85h-0.85zM388.53,363.1h0.85v0.85h-0.85zM423.77,342.1h0.85v0.85h-0.85zM412,453.1h0.85v0.85h-0.85zM468.51,404.1h0.85v0.85h-0.85zM485.12,375.1h0.85v0.85h-0.85zM462.13,385.1h0.85v0.85h-0.85zM446.22,450.1h0.85v0.85h-0.85zM406.89,373.1h0.85v0.85h-0.85zM430.83,354.1h0.85v0.85h-0.85zM471.04,362.1h0.85v0.85h-0.85zM463.91,376.1h0.85v0.85h-0.85zM485.63,378.1h0.85v0.85h-0.85zM473.27,392.1h0.85v0.85h-0.85zM466.41,402.1h0.85v0.85h-0.85zM380.34,456.1h0.85v0.85h-0.85zM397.98,351.1h0.85v0.85h-0.85zM457,417.1h0.85v0.85h-0.85zM410.3,350.1h0.85v0.85h-0.85zM382.02,410.1h0.85v0.85h-0.85zM468.73,406.1h0.85v0.85h-0.85zM446.98,446.1h0.85v0.85h-0.85zM428.57,428.1h0.85v0.85h-0.85zM395.8,417.1h0.85v0.85h-0.85zM389.91,377.1h0.85v0.85h-0.85zM385.32,352.1h0.85v0.85h-0.85zM408.17,433.1h0.85v0.85h-0.85zM395.31,361.1h0.85v0.85h-0.85zM372.78,357.1h0.85v0.85h-0.85zM483.73,422.1h0.85v0.85h-0.85zM378.99,451.1h0.85v0.85h-0.85zM456.24,397.1h0.85v0.85h-0.85zM402.24,389.1h0.85v0.85h-0.85zM465.07,395.1h0.85v0.85h-0.85zM395.71,389.1h0.85v0.85h-0.85zM376.26,348.1h0.85v0.85h-0.85zM383.11,365.1h0.85v0.85h-0.85zM396.25,408.1h0.85v0.85h-0.85zM378.83,437.1h0.85v0.85h-0.85zM373.17,419.1h0.85v0.85h-0.85zM387.25,421.1h0.85v0.85h-0.85zM485.96,414.1h0.85v0.85h-0.85zM458.01,450.1h0.85v0.85h-0.85zM381.6,395.1h0.85v0.85h-0.85zM381.03,422.1h0.85v0.85h-0.85zM469.68,406.1h0.85v0.85h-0.85zM399.44,397.1h0.85v0.85h-0.85zM390.49,390.1h0.85v0.85h-0.85zM422.56,359.1h0.85v0.85h-0.85zM404.27,382.1h0.85v0.85h-0.85zM495.18,406.1h0.85v0.85h-0.85zM481,437.1h0.85v0.85h-0.85zM422.15,351.1h0.85v0.85h-0.85zM410.74,411.1h0.85v0.85h-0.85zM377.26,395.1h0.85v0.85h-0.85zM421.54,350.1h0.85v0.85h-0.85zM476.05,385.1h0.85v0.85h-0.85zM376.59,369.1h0.85v0.85h-0.85zM457.49,380.1h0.85v0.85h-0.85zM408.48,350.1h0.85v0.85h-0.85zM394.14,389.1h0.85v0.85h-0.85zM402.15,440.1h0.85v0.85h-0.85zM494.07,412.1h0.85v0.85h-0.85zM447.46,366.1h0.85v0.85h-0.85zM378.98,406.1h0.85v0.85h-0.85zM394.75,404.1h0.85v0.85h-0.85zM372.83,386.1h0.85v0.85h-0.85zM475.42,353.1h0.85v0.85h-0.85zM396.53,443.1h0.85v0.85h-0.85zM404.03,387.1h0.85v0.85h-0.85zM431.19,348.1h0.85v0.85h-0.85zM479.86,379.1h0.85v0.85h-0.85zM482.93,426.1h0.85v0.85h-0.85zM374.69,347.1h0.85v0.85h-0.85zM483.1,443.1h0.85v0.85h-0.85zM387.66,423.1h0.85v0.85h-0.85zM456.07,431.1h0.85v0.85h-0.85zM376.33,412.1h0.85v0.85h-0.85zM406.98,417.1h0.85v0.85h-0.85zM408.45,455.1h0.85v0.85h-0.85zM483.45,426.1h0.85v0.85h-0.85zM448.61,446.1h0.85v0.85h-0.85zM467.48,433.1h0.85v0.85h-0.85zM387.49,390.1h0.85v0.85h-0.85zM414.81,378.1h0.85v0.85h-0.85zM469.32,375.1h0.85v0.85h-0.85zM433.11,447.1h0.85v0.85h-0.85zM399.57,343.1h0.85v0.85h-0.85zM479.15,345.1h0.85v0.85h-0.85zM405.39,379.1h0.85v0.85h-0.85zM393.05,344.1h0.85v0.85h-0.85zM384.51,447.1h0.85v0.85h-0.85zM474.02,341.1h0.85v0.85h-0.85zM456.16,393.1h0.85v0.85h-0.85zM464.46,373.1h0.85v0.85h-0.85zM431.37,386.1h0.85v0.85h-0.85zM469.72,446.1h0.85v0.85h-0.85zM474.02,433.1h0.85v0.85h-0.85zM407.27,406.1h0.85v0.85h-0.85zM401.24,446.1h0.85v0.85h-0.85zM422.98,427.1h0.85v0.85h-0.85zM487.61,340.1h0.85v0.85h-0.85zM475.24,438.1h0.85v0.85h-0.85zM469.81,428.1h0.85v0.85h-0.85zM474.35,433.1h0.85v0.85h-0.85zM474.78,364.1h0.85v0.85h-0.85zM377.65,454.1h0.85v0.85h-0.85zM433.62,424.1h0.85v0.85h-0.85zM392.06,408.1h0.85v0.85h-0.85zM460.45,394.1h0.85v0.85h-0.85zM482.43,445.1h0.85v0.85h-0.85zM377.58,374.1h0.85v0.85h-0.85zM372.11,415.1h0.85v0.85h-0.85zM491.68,454.1h0.85v0.85h-0.85zM464.93,410.1h0.85v0.85h-0.85zM412.03,405.1h0.85v0.85h-0.85zM421.7,381.1h0.85v0.85h-0.85zM375.79,444.1h0.85v0.85h-0.85zM416.19,400.1h0.85v0.85h-0.85zM486.29,432.1h0.85v0.85h-0.85zM481.67,405.1h0.85v0.85h-0.85zM384.39,441.1h0.85v0.85h-0.85zM476.13,353.1h0.85v0.85h-0.85zM409.57,453.1h0.85v0.85h-0.85zM387.67,402.1h0.85v0.85h-0.85zM398.36,426.1h0.85v0.85h-0.85zM415.84,352.1h0.85v0.85h-0.85zM378.99,388.1h0.85v0.85h-0.85zM462.21,402.1h0.85v0.85h-0.85zM431.9,404.1h0.85v0.85h-0.85zM404.09,399.1h0.85v0.85h-0.85zM461.87,383.1h0.85v0.85h-0.85zM452.14,456.1h0.85v0.85h-0.85zM419.87,424.1h0.85v0.85h-0.85zM385.09,388.1h0.85v0.85h-0.85zM410.07,453.1h0.85v0.85h-0.85zM433.07,432.1h0.85v0.85h-0.85zM378.85,353.1h0.85v0.85h-0.85zM449.38,393.1h0.85v0.85h-0.85zM491.23,447.1h0.85v0.85h-0.85zM405.81,380.1h0.85v0.85h-0.85zM398.31,430.1h0.85v0.85h-0.85zM444.76,448.1h0.85v0.85h-0.85zM488.89,425.1h0.85v0.85h-0.85zM464.96,423.1h0.85v0.85h-0.85zM477.84,378.1h0.85v0.85h-0.85zM385.23,440.1h0.85v0.85h-0.85zM405.26,340.1h0.85v0.85h-0.85zM395.5,350.1h0.85v0.85h-0.85zM432.87,384.1h0.85v0.85h-0.85zM451.02,414.1h0.85v0.85h-0.85zM467.15,395.1h0.85v0.85h-0.85zM487.28,428.1h0.85v0.85h-0.85zM482.37,416.1h0.85v0.85h-0.85zM376.51,422.1h0.85v0.85h-0.85zM389.76,365.1h0.85v0.85h-0.85zM451.08,391.1h0.85v0.85h-0.85zM391.58,436.1h0.85v0.85h-0.85zM428.31,356.1h0.85v0.85h-0.85zM470.32,397.1h0.85v0.85h-0.85zM401.3,431.1h0.85v0.85h-0.85zM453.11,386.1h0.85v0.85h-0.85zM386.32,356.1h0.85v0.85h-0.85zM373.73,433.1h0.85v0.85h-0.85zM446.41,432.1h0.85v0.85h-0.85zM403.36,378.1h0.85v0.85h-0.85zM388.84,437.1h0.85v0.85h-0.85zM409.3,350.1h0.85v0.85h-0.85zM464.12,429.1h0.85v0.85h-0.85zM385.49,455.1h0.85v0.85h-0.85zM420.75,360.1h0.85v0.85h-0.85zM420.5,342.1h0.85v0.85h-0.85zM401.71,376.1h0.85v0.85h-0.85zM378.92,383.1h0.85v0.85h-0.85zM373.72,455.1h0.85v0.85h-0.85zM405.22,421.1h0.85v0.85h-0.85zM457.65,396.1h0.85v0.85h-0.85zM394.83,455.1h0.85v0.85h-0.85zM374.65,373.1h0.85v0.85h-0.85zM447.59,447.1h0.85v0.85h-0.85zM425.04,433.1h0.85v0.85h-0.85zM415.73,353.1h0.85v0.85h-0.85zM411.76,432.1h0.85v0.85h-0.85zM422.44,346.1h0.85v0.85h-0.85zM408.16,353.1h0.85v0.85h-0.85zM492.3,385.1h0.85v0.85h-0.85zM381.97,391.1h0.85v0.85h-0.85zM483.96,379.1h0.85v0.85h-0.85zM429.16,392.1h0.85v0.85h-0.85zM388.47,451.1h0.85v0.85h-0.85zM391.88,428.1h0.85v0.85h-0.85zM430.42,366.1h0.85v0.85h-0.85zM469,395.1h0.85v0.85h-0.85zM453.62,372.1h0.85v0.85h-0.85zM375.92,398.1h0.85v0.85h-0.85zM470.69,341.1h0.85v0.85h-0.85zM393.07,426.1h0.85v0.85h-0.85zM417.63,401.1h0.85v0.85h-0.85zM392.49,349.1h0.85v0.85h-0.85zM412.07,409.1h0.85v0.85h-0.85zM392.84,444.1h0.85v0.85h-0.85zM484.47,397.1h0.85v0.85h-0.85zM478.86,397.1h0.85v0.85h-0.85zM490.5,366.1h0.85v0.85h-0.85zM403.55,381.1h0.85v0.85h-0.85zM405.29,410.1h0.85v0.85h-0.85zM487.79,421.1h0.85v0.85h-0.85zM490.9,408.1h0.85v0.85h-0.85zM372.77,398.1h0.85v0.85h-0.85zM391.91,361.1h0.85v0.85h-0.85zM412.74,445.1h0.85v0.85h-0.85zM417.43,417.1h0.85v0.85h-0.85zM453.31,395.1h0.85v0.85h-0.85zM472.64,452.1h0.85v0.85h-0.85zM390.64,389.1h0.85v0.85h-0.85zM423.62,444.1h0.85v0.85h-0.85zM382.86,359.1h0.85v0.85h-0.85zM397.57,406.1h0.85v0.85h-0.85zM396.61,387.1h0.85v0.85h-0.85zM488.69,393.1h0.85v0.85h-0.85zM431.94,390.1h0.85v0.85h-0.85zM414.68,381.1h0.85v0.85h-0.85zM476.57,454.1h0.85v0.85h-0.85zM376.56,370.1h0.85v0.85h-0.85zM489.74,442.1h0.85v0.85h-0.85zM383.74,422.1h0.85v0.85h-0.85zM488.45,391.1h0.85v0.85h-0.85zM419.02,439.1h0.85v0.85h-0.85zM403.38,347.1h0.85v0.85h-0.85zM401.21,394.1h0.85v0.85h-0.85zM476.96,394.1h0.85v0.85h-0.85zM492.34,358.1h0.85v0.85h-0.85zM466.43,450.1h0.85v0.85h-0.85zM383.33,354.1h0.85v0.85h-0.85zM464.24,404.1h0.85v0.85h-0.85zM422.02,442.1h0.85v0.85h-0.85zM399.8,407.1h0.85v0.85h-0.85zM461.11,419.1h0.85v0.85h-0.85zM490.96,447.1h0.85v0.85h-0.85zM373.57,382.1h0.85v0.85h-0.85zM377.6,353.1h0.85v0.85h-0.85zM417.98,355.1h0.85v0.85h-0.85zM462.85,444.1h0.85v0.85h-0.85zM418.8,404.1h0.85v0.85h-0.85zM470.48,435.1h0.85v0.85h-0.85zM408.54,347.1h0.85v0.85h-0.85zM461.71,349.1h0.85v0.85h-0.85zM374.87,383.1h0.85v0.85h-0.85zM377.56,358.1h0.85v0.85h-0.85zM495.12,448.1h0.85v0.85h-0.85zM377.82,359.1h0.85v0.85h-0.85zM412.5,428.1h0.85v0.85h-0.85zM388.31,447.1h0.85v0.85h-0.85zM481.55,437.1h0.85v0.85h-0.85zM421.07,399.1h0.85v0.85h-0.85zM425.94,415.1h0.85v0.85h-0.85zM419.56,449.1h0.85v0.85h-0.85zM382,396.1h0.85v0.85h-0.85zM383.62,358.1h0.85v0.85h-0.85zM387.03,435.1h0.85v0.85h-0.85zM491.65,435.1h0.85v0.85h-0.85zM390.98,453.1h0.85v0.85h-0.85zM482.2,386.1h0.85v0.85h-0.85zM409.2,343.1h0.85v0.85h-0.85zM494.81,349.1h0.85v0.85h-0.85zM390.22,390.1h0.85v0.85h-0.85zM459.01,366.1h0.85v0.85h-0.85zM375.2,372.1h0.85v0.85h-0.85zM471.44,452.1h0.85v0.85h-0.85zM457.61,422.1h0.85v0.85h-0.85zM468.52,375.1h0.85v0.85h-0.85zM488.37,375.1h0.85v0.85h-0.85zM430.65,359.1h0.85v0.85h-0.85zM473.57,443.1h0.85v0.85h-0.85zM402.02,366.1h0.85v0.85h-0.85zM408.29,359.1h0.85v0.85h-0.85zM419.09,358.1h0.85v0.85h-0.85zM389.82,367.1h0.85v0.85h-0.85zM405.99,432.1h0.85v0.85h-0.85zM374.94,369.1h0.85v0.85h-0.85zM432.82,355.1h0.85v0.85h-0.85zM427.4,365.1h0.85v0.85h-0.85zM380.01,355.1h0.85v0.85h-0.85zM472.48,346.1h0.85v0.85h-0.85zM433.32,401.1h0.85v0.85h-0.85zM477.01,422.1h0.85v0.85h-0.85zM427.44,393.1h0.85v0.85h-0.85zM407.02,360.1h0.85v0.85h-0.85zM473.47,343.1h0.85v0.85h-0.85zM377.35,381.1h0.85v0.85h-0.85zM455.92,402.1h0.85v0.85h-0.85zM450.98,357.1h0.85v0.85h-0.85zM407.78,383.1h0.85v0.85h-0.85zM462.27,449.1h0.85v0.85h-0.85zM424.6,388.1h0.85v0.85h-0.85zM490.27,351.1h0.85v0.85h-0.85zM420.69,417.1h0.85v0.85h-0.85zM396.68,438.1h0.85v0.85h-0.85zM486.01,448.1h0.85v0.85h-0.85zM408.86,450.1h0.85v0.85h-0.85zM398.47,410.1h0.85v0.85h-0.85zM408.19,437.1h0.85v0.85h-0.85zM466.71,381.1h0.85v0.85h-0.85zM416.44,402.1h0.85v0.85h-0.85zM481.96,341.1h0.85v0.85h-0.85zM454.47,380.1h0.85v0.85h-0.85zM421.79,363.1h0.85v0.85h-0.85zM421.46,399.1h0.85v0.85h-0.85zM374.59,348.1h0.85v0.85h-0.85zM411.95,442.1h0.85v0.85h-0.85zM468,367.1h0.85v0.85h-0.85zM481.74,380.1h0.85v0.85h-0.85zM468.86,404.1h0.85v0.85h-0.85zM430.03,362.1h0.85v0.85h-0.85zM458.29,406.1h0.85v0.85h-0.85zM469.9,343.1h0.85v0.85h-0.85zM457.84,418.1h0.85v0.85h-0.85zM406.38,413.1h0.85v0.85h-0.85zM456.49,386.1h0.85v0.85h-0.85zM465.83,390.1h0.85v0.85h-0.85zM387.96,438.1h0.85v0.85h-0.85zM448.59,439.1h0.85v0.85h-0.85zM487.15,399.1h0.85v0.85h-0.85zM389.64,357.1h0.85v0.85h-0.85zM420.6,440.1h0.85v0.85h-0.85zM377.42,414.1h0.85v0.85h-0.85zM445.69,369.1h0.85v0.85h-0.85zM404.92,415.1h0.85v0.85h-0.85zM395.41,402.1h0.85v0.85h-0.85zM397.62,344.1h0.85v0.85h-0.85zM372.72,436.1h0.85v0.85h-0.85zM403.36,386.1h0.85v0.85h-0.85zM383.36,348.1h0.85v0.85h-0.85zM429.49,376.1h0.85v0.85h-0.85zM418.05,409.1h0.85v0.85h-0.85zM460.32,364.1h0.85v0.85h-0.85zM406.04,424.1h0.85v0.85h-0.85zM482.17,356.1h0.85v0.85h-0.85zM487.4,415.1h0.85v0.85h-0.85zM432.08,374.1h0.85v0.85h-0.85zM401.74,409.1h0.85v0.85h-0.85zM386.26,443.1h0.85v0.85h-0.85zM452.56,387.1h0.85v0.85h-0.85zM490.72,357.1h0.85v0.85h-0.85zM481.44,446.1h0.85v0.85h-0.85zM490.89,444.1h0.85v0.85h-0.85zM420.3,445.1h0.85v0.85h-0.85zM391.84,360.1h0.85v0.85h-0.85zM401.22,376.1h0.85v0.85h-0.85zM487.18,406.1h0.85v0.85h-0.85zM392.57,358.1h0.85v0.85h-0.85zM431.39,342.1h0.85v0.85h-0.85zM394.94,369.1h0.85v0.85h-0.85zM461.97,389.1h0.85v0.85h-0.85zM459.57,379.1h0.85v0.85h-0.85zM372.99,372.1h0.85v0.85h-0.85zM384.65,365.1h0.85v0.85h-0.85zM477.33,351.1h0.85v0.85h-0.85zM482.65,421.1h0.85v0.85h-0.85zM488.91,440.1h0.85v0.85h-0.85zM468.47,447.1h0.85v0.85h-0.85zM461.72,351.1h0.85v0.85h-0.85zM422.86,431.1h0.85v0.85h-0.85zM474.55,380.1h0.85v0.85h-0.85zM392.65,370.1h0.85v0.85h-0.85zM387.87,410.1h0.85v0.85h-0.85zM418.78,410.1h0.85v0.85h-0.85zM386.06,362.1h0.85v0.85h-0.85zM422.03,404.1h0.85v0.85h-0.85zM374.6,452.1h0.85v0.85h-0.85zM433.96,448.1h0.85v0.85h-0.85zM409,378.1h0.85v0.85h-0.85zM376.56,455.1h0.85v0.85h-0.85zM395.47,377.1h0.85v0.85h-0.85zM412.48,427.1h0.85v0.85h-0.85zM423.21,440.1h0.85v0.85h-0.85zM381.45,379.1h0.85v0.85h-0.85zM451.44,438.1h0.85v0.85h-0.85zM446.95,369.1h0.85v0.85h-0.85zM416.65,346.1h0.85v0.85h-0.85zM468.16,373.1h0.85v0.85h-0.85zM473.69,397.1h0.85v0.85h-0.85zM388.01,420.1h0.85v0.85h-0.85zM413.34,429.1h0.85v0.85h-0.85zM452.56,451.1h0.85v0.85h-0.85zM464.66,385.1h0.85v0.85h-0.85zM469.21,431.1h0.85v0.85h-0.85zM473.36,454.1h0.85v0.85h-0.85zM379.73,419.1h0.85v0.85h-0.85zM468.44,398.1h0.85v0.85h-0.85zM452.53,359.1h0.85v0.85h-0.85zM406.98,381.1h0.85v0.85h-0.85zM473.95,382.1h0.85v0.85h-0.85zM488.25,448.1h0.85v0.85h-0.85zM403.36,423.1h0.85v0.85h-0.85zM478.91,402.1h0.85v0.85h-0.85zM456.03,379.1h0.85v0.85h-0.85zM385.37,395.1h0.85v0.85h-0.85zM455.44,407.1h0.85v0.85h-0.85zM414.13,375.1h0.85v0.85h-0.85zM477.1,372.1h0.85v0.85h-0.85zM452.99,448.1h0.85v0.85h-0.85zM382.94,383.1h0.85v0.85h-0.85zM384.87,370.1h0.85v0.85h-0.85zM493.83,425.1h0.85v0.85h-0.85zM473.22,372.1h0.85v0.85h-0.85zM471.9,421.1h0.85v0.85h-0.85zM419.47,415.1h0.85v0.85h-0.85zM426.63,343.1h0.85v0.85h-0.85zM372.99,434.1h0.85v0.85h-0.85zM472.35,436.1h0.85v0.85h-0.85zM469.39,453.1h0.85v0.85h-0.85zM427.66,454.1h0.85v0.85h-0.85zM492.25,448.1h0.85v0.85h-0.85zM385.5,391.1h0.85v0.85h-0.85zM377.88,396.1h0.85v0.85h-0.85zM414.95,448.1h0.85v0.85h-0.85zM380.33,404.1h0.85v0.85h-0.85zM407.97,342.1h0.85v0.85h-0.85zM426.07,371.1h0.85v0.85h-0.85zM421.34,370.1h0.85v0.85h-0.85zM400.11,392.1h0.85v0.85h-0.85zM462.11,381.1h0.85v0.85h-0.85zM384.4,364.1h0.85v0.85h-0.85zM402.15,395.1h0.85v0.85h-0.85zM468.73,381.1h0.85v0.85h-0.85zM413.85,365.1h0.85v0.85h-0.85zM461.24,353.1h0.85v0.85h-0.85zM409.9,431.1h0.85v0.85h-0.85zM386.15,408.1h0.85v0.85h-0.85zM464.7,434.1h0.85v0.85h-0.85zM480.93,419.1h0.85v0.85h-0.85zM418.42,343.1h0.85v0.85h-0.85zM399.53,373.1h0.85v0.85h-0.85zM424.62,441.1h0.85v0.85h-0.85zM376.13,396.1h0.85v0.85h-0.85zM493.3,389.1h0.85v0.85h-0.85zM492.8,363.1h0.85v0.85h-0.85zM467.96,430.1h0.85v0.85h-0.85zM422.43,388.1h0.85v0.85h-0.85zM469.32,379.1h0.85v0.85h-0.85zM382.82,452.1h0.85v0.85h-0.85zM411.45,419.1h0.85v0.85h-0.85zM373.27,384.1h0.85v0.85h-0.85zM418.69,362.1h0.85v0.85h-0.85zM391.8,427.1h0.85v0.85h-0.85zM465.52,379.1h0.85v0.85h-0.85zM461.96,453.1h0.85v0.85h-0.85zM493.14,427.1h0.85v0.85h-0.85zM477.97,450.1h0.85v0.85h-0.85zM382.97,427.1h0.85v0.85h-0.85zM408.03,447.1h0.85v0.85h-0.85zM390,398.1h0.85v0.85h-0.85zM408.43,348.1h0.85v0.85h-0.85zM429.07,444.1h0.85v0.85h-0.85zM380.94,384.1h0.85v0.85h-0.85zM448.38,450.1h0.85v0.85h-0.85zM416.72,446.1h0.85v0.85h-0.85zM430.16,369.1h0.85v0.85h-0.85zM384.38,433.1h0.85v0.85h-0.85zM375.82,450.1h0.85v0.85h-0.85zM457.42,422.1h0.85v0.85h-0.85zM411.26,400.1h0.85v0.85h-0.85zM432.2,450.1h0.85v0.85h-0.85zM485.39,379.1h0.85v0.85h-0.85zM406.63,364.1h0.85v0.85h-0.85zM446.58,403.1h0.85v0.85h-0.85zM488.75,443.1h0.85v0.85h-0.85zM377.73,456.1h0.85v0.85h-0.85zM396.62,360.1h0.85v0.85h-0.85zM453.6,454.1h0.85v0.85h-0.85zM458.7,408.1h0.85v0.85h-0.85zM469.28,373.1h0.85v0.85h-0.85zM374.36,434.1h0.85v0.85h-0.85zM449.69,404.1h0.85v0.85h-0.85zM422.22,438.1h0.85v0.85h-0.85zM423.05,350.1h0.85v0.85h-0.85zM382.15,368.1h0.85v0.85h-0.85zM448.15,375.1h0.85v0.85h-0.85zM410.87,378.1h0.85v0.85h-0.85zM479.66,442.1h0.85v0.85h-0.85zM476.45,352.1h0.85v0.85h-0.85zM489.83,412.1h0.85v0.85h-0.85zM494.64,442.1h0.85v0.85h-0.85zM388.37,398.1h0.85v0.85h-0.85zM447.2,432.1h0.85v0.85h-0.85zM480.2,374.1h0.85v0.85h-0.85zM391.15,355.1h0.85v0.85h-0.85zM421.09,347.1h0.85v0.85h-0.85zM466.18,413.1h0.85v0.85h-0.85zM457,361.1h0.85v0.85h-0.85zM465.91,388.1h0.85v0.85h-0.85zM419.19,456.1h0.85v0.85h-0.85zM493.18,450.1h0.85v0.85h-0.85zM463,342.1h0.85v0.85h-0.85zM378.05,429.1h0.85v0.85h-0.85zM452.38,412.1h0.85v0.85h-0.85zM421.49,412.1h0.85v0.85h-0.85zM411.12,425.1h0.85v0.85h-0.85zM487.72,373.1h0.85v0.85h-0.85zM396.58,410.1h0.85v0.85h-0.85zM404.5,446.1h0.85v0.85h-0.85zM412.42,372.1h0.85v0.85h-0.85zM476.59,407.1h0.85v0.85h-0.85zM469.98,394.1h0.85v0.85h-0.85zM388.87,351.1h0.85v0.85h-0.85zM493.38,357.1h0.85v0.85h-0.85zM462.95,394.1h0.85v0.85h-0.85zM415.78,456.1h0.85v0.85h-0.85zM382.11,434.1h0.85v0.85h-0.85zM413.74,455.1h0.85v0.85h-0.85zM406.45,411.1h0.85v0.85h-0.85zM393.58,397.1h0.85v0.85h-0.85zM389.97,452.1h0.85v0.85h-0.85zM387.85,400.1h0.85v0.85h-0.85zM397.41,383.1h0.85v0.85h-0.85zM391.41,343.1h0.85v0.85h-0.85zM426.99,452.1h0.85v0.85h-0.85zM415.88,390.1h0.85v0.85h-0.85zM377.22,450.1h0.85v0.85h-0.85zM427.44,350.1h0.85v0.85h-0.85zM461.11,442.1h0.85v0.85h-0.85zM483.26,438.1h0.85v0.85h-0.85zM482.29,378.1h0.85v0.85h-0.85zM474.11,428.1h0.85v0.85h-0.85zM414.71,390.1h0.85v0.85h-0.85zM406.87,342.1h0.85v0.85h-0.85zM420.4,375.1h0.85v0.85h-0.85zM376.77,425.1h0.85v0.85h-0.85zM459.47,362.1h0.85v0.85h-0.85zM394.63,453.1h0.85v0.85h-0.85zM402.11,431.1h0.85v0.85h-0.85zM410.96,353.1h0.85v0.85h-0.85zM427.44,410.1h0.85v0.85h-0.85zM388.54,410.1h0.85v0.85h-0.85zM493.97,406.1h0.85v0.85h-0.85zM406.8,346.1h0.85v0.85h-0.85zM461.27,367.1h0.85v0.85h-0.85zM479.5,359.1h0.85v0.85h-0.85zM392.84,367.1h0.85v0.85h-0.85zM382.38,424.1h0.85v0.85h-0.85zM463.39,451.1h0.85v0.85h-0.85zM399.51,431.1h0.85v0.85h-0.85zM401.14,370.1h0.85v0.85h-0.85zM389.8,421.1h0.85v0.85h-0.85zM422.95,416.1h0.85v0.85h-0.85zM494.41,445.1h0.85v0.85h-0.85zM483.44,364.1h0.85v0.85h-0.85zM395.02,357.1h0.85v0.85h-0.85zM373.29,342.1h0.85v0.85h-0.85zM448.79,413.1h0.85v0.85h-0.85zM464.96,382.1h0.85v0.85h-0.85zM454.47,372.1h0.85v0.85h-0.85zM391.47,375.1h0.85v0.85h-0.85zM449.3,381.1h0.85v0.85h-0.85zM465.8,371.1h0.85v0.85h-0.85zM391.1,361.1h0.85v0.85h-0.85zM474.78,412.1h0.85v0.85h-0.85zM378.54,408.1h0.85v0.85h-0.85zM428.58,449.1h0.85v0.85h-0.85zM463.25,447.1h0.85v0.85h-0.85zM477.5,397.1h0.85v0.85h-0.85zM454.85,444.1h0.85v0.85h-0.85zM458.02,428.1h0.85v0.85h-0.85zM452.52,360.1h0.85v0.85h-0.85zM405.26,441.1h0.85v0.85h-0.85zM378.13,441.1h0.85v0.85h-0.85zM415.04,432.1h0.85v0.85h-0.85zM464.89,359.1h0.85v0.85h-0.85zM483.17,400.1h0.85v0.85h-0.85zM459.13,411.1h0.85v0.85h-0.85zM404.06,344.1h0.85v0.85h-0.85zM410.3,455.1h0.85v0.85h-0.85zM393.98,417.1h0.85v0.85h-0.85zM402.37,364.1h0.85v0.85h-0.85zM454.28,376.1h0.85v0.85h-0.85zM470.09,364.1h0.85v0.85h-0.85zM427.01,382.1h0.85v0.85h-0.85zM389.4,402.1h0.85v0.85h-0.85zM446.38,389.1h0.85v0.85h-0.85zM404.43,398.1h0.85v0.85h-0.85zM374.86,414.1h0.85v0.85h-0.85zM449.75,409.1h0.85v0.85h-0.85zM450.8,371.1h0.85v0.85h-0.85zM401.84,382.1h0.85v0.85h-0.85zM493.6,370.1h0.85v0.85h-0.85zM417.22,357.1h0.85v0.85h-0.85zM460.26,405.1h0.85v0.85h-0.85zM393.16,393.1h0.85v0.85h-0.85zM400.94,409.1h0.85v0.85h-0.85zM413.47,372.1h0.85v0.85h-0.85zM390.72,396.1h0.85v0.85h-0.85zM484.39,440.1h0.85v0.85h-0.85zM450.86,384.1h0.85v0.85h-0.85zM419.67,446.1h0.85v0.85h-0.85zM415.62,361.1h0.85v0.85h-0.85zM469.95,445.1h0.85v0.85h-0.85zM400.01,352.1h0.85v0.85h-0.85zM462.21,453.1h0.85v0.85h-0.85zM385.25,437.1h0.85v0.85h-0.85zM463.64,417.1h0.85v0.85h-0.85zM421.52,376.1h0.85v0.85h-0.85zM417.68,415.1h0.85v0.85h-0.85zM482.72,382.1h0.85v0.85h-0.85zM380.54,448.1h0.85v0.85h-0.85zM395.51,417.1h0.85v0.85h-0.85zM384.35,436.1h0.85v0.85h-0.85zM481.97,342.1h0.85v0.85h-0.85zM486.66,380.1h0.85v0.85h-0.85zM487.46,408.1h0.85v0.85h-0.85zM480.78,383.1h0.85v0.85h-0.85zM455.25,367.1h0.85v0.85h-0.85zM483.39,451.1h0.85v0.85h-0.85zM419.39,346.1h0.85v0.85h-0.85zM468.31,399.1h0.85v0.85h-0.85zM430.17,378.1h0.85v0.85h-0.85zM390.64,389.1h0.85v0.85h-0.85zM458.05,358.1h0.85v0.85h-0.85zM373.43,454.1h0.85v0.85h-0.85zM489.5,456.1h0.85v0.85h-0.85zM386.97,355.1h0.85v0.85h-0.85zM379.4,373.1h0.85v0.85h-0.85zM447.26,348.1h0.85v0.85h-0.85zM415.06,420.1h0.85v0.85h-0.85zM398.54,448.1h0.85v0.85h-0.85zM430.07,383.1h0.85v0.85h-0.85zM398.4,375.1h0.85v0.85h-0.85zM473.73,355.1h0.85v0.85h-0.85zM380.77,399.1h0.85v0.85h-0.85zM419.62,416.1h0.85v0.85h-0.85zM407.28,373.1h0.85v0.85h-0.85zM489.42,406.1h0.85v0.85h-0.85zM460.77,420.1h0.85v0.85h-0.85zM374.67,415.1h0.85v0.85h-0.85zM456.08,447.1h0.85v0.85h-0.85zM388.53,344.1h0.85v0.85h-0.85zM382.89,400.1h0.85v0.85h-0.85zM375.86,381.1h0.85v0.85h-0.85zM458.72,453.1h0.85v0.85h-0.85zM412.49,384.1h0.85v0.85h-0.85zM422.06,413.1h0.85v0.85h-0.85zM414.72,442.1h0.85v0.85h-0.85zM412.4,341.1h0.85v0.85h-0.85zM379.97,414.1h0.85v0.85h-0.85zM474.52,419.1h0.85v0.85h-0.85zM458.02,387.1h0.85v0.85h-0.85zM468.36,437.1h0.85v0.85h-0.85zM418.66,370.1h0.85v0.85h-0.85zM404.08,446.1h0.85v0.85h-0.85zM427.98,392.1h0.85v0.85h-0.85zM416.67,435.1h0.85v0.85h-0.85zM460.66,397.1h0.85v0.85h-0.85zM396.19,355.1h0.85v0.85h-0.85zM466.9,349.1h0.85v0.85h-0.85zM390.57,384.1h0.85v0.85h-0.85zM434.12,374.1h0.85v0.85h-0.85zM374.1,449.1h0.85v0.85h-0.85zM411.43,403.1h0.85v0.85h-0.85zM416.24,414.1h0.85v0.85h-0.85zM414.93,428.1h0.85v0.85h-0.85zM474.41,454.1h0.85v0.85h-0.85zM407.03,346.1h0.85v0.85h-0.85zM485.36,418.1h0.85v0.85h-0.85zM483.11,391.1h0.85v0.85h-0.85zM394.28,403.1h0.85v0.85h-0.85zM474.64,421.1h0.85v0.85h-0.85zM392.93,416.1h0.85v0.85h-0.85zM431.62,452.1h0.85v0.85h-0.85zM451.66,427.1h0.85v0.85h-0.85zM445.96,340.1h0.85v0.85h-0.85zM492.87,413.1h0.85v0.85h-0.85zM420.43,351.1h0.85v0.85h-0.85zM450.24,436.1h0.85v0.85h-0.85zM484.92,445.1h0.85v0.85h-0.85zM430.24,442.1h0.85v0.85h-0.85zM408.17,376.1h0.85v0.85h-0.85zM471.11,375.1h0.85v0.85h-0.85zM402.79,343.1h0.85v0.85h-0.85zM487.16,365.1h0.85v0.85h-0.85zM427.85,455.1h0.85v0.85h-0.85zM459.55,341.1h0.85v0.85h-0.85zM418.03,395.1h0.85v0.85h-0.85zM469.55,443.1h0.85v0.85h-0.85zM420.44,395.1h0.85v0.85h-0.85zM432.68,428.1h0.85v0.85h-0.85zM430.93,368.1h0.85v0.85h-0.85zM491.11,454.1h0.85v0.85h-0.85zM480.71,351.1h0.85v0.85h-0.85zM468.85,368.1h0.85v0.85h-0.85zM462.16,452.1h0.85v0.85h-0.85zM414.1,351.1h0.85v0.85h-0.85zM396.08,456.1h0.85v0.85h-0.85zM464.8,423.1h0.85v0.85h-0.85zM400.41,392.1h0.85v0.85h-0.85zM410.79,452.1h0.85v0.85h-0.85zM427.34,390.1h0.85v0.85h-0.85zM464.91,359.1h0.85v0.85h-0.85zM455.49,378.1h0.85v0.85h-0.85zM413.26,449.1h0.85v0.85h-0.85zM414.67,426.1h0.85v0.85h-0.85zM400.61,356.1h0.85v0.85h-0.85zM406.67,364.1h0.85v0.85h-0.85zM451.03,370.1h0.85v0.85h-0.85zM458.71,424.1h0.85v0.85h-0.85zM379.26,413.1h0.85v0.85h-0.85zM424.26,347.1h0.85v0.85h-0.85zM485.12,370.1h0.85v0.85h-0.85zM403.63,374.1h0.85v0.85h-0.85zM414.46,392.1h0.85v0.85h-0.85zM490.43,383.1h0.85v0.85h-0.85zM430.61,400.1h0.85v0.85h-0.85zM467.74,411.1h0.85v0.85h-0.85zM461.03,348.1h0.85v0.85h-0.85zM393.45,443.1h0.85v0.85h-0.85zM471.48,360.1h0.85v0.85h-0.85zM491.36,367.1h0.85v0.85h-0.85zM457.23,380.1h0.85v0.85h-0.85zM416.61,358.1h0.85v0.85h-0.85zM398.43,378.1h0.85v0.85h-0.85zM454.75,403.1h0.85v0.85h-0.85zM395.89,367.1h0.85v0.85h-0.85zM376.43,443.1h0.85v0.85h-0.85zM393.52,404.1h0.85v0.85h-0.85zM435.99,417.1h0.85v0.85h-0.85zM412.03,343.1h0.85v0.85h-0.85zM402.41,452.1h0.85v0.85h-0.85zM495.51,396.1h0.85v0.85h-0.85zM457.89,348.1h0.85v0.85h-0.85zM470.8,342.1h0.85v0.85h-0.85zM433.15,452.1h0.85v0.85h-0.85zM457.17,364.1h0.85v0.85h-0.85zM493.74,453.1h0.85v0.85h-0.85zM419.45,420.1h0.85v0.85h-0.85zM375.04,403.1h0.85v0.85h-0.85zM427.85,355.1h0.85v0.85h-0.85zM494.1,443.1h0.85v0.85h-0.85zM414.45,410.1h0.85v0.85h-0.85zM459.89,405.1h0.85v0.85h-0.85zM410.3,451.1h0.85v0.85h-0.85zM489.99,440.1h0.85v0.85h-0.85zM392.61,360.1h0.85v0.85h-0.85zM396.96,349.1h0.85v0.85h-0.85zM464.22,448.1h0.85v0.85h-0.85zM482.12,371.1h0.85v0.85h-0.85zM432.11,378.1h0.85v0.85h-0.85zM409.12,357.1h0.85v0.85h-0.85zM420.24,454.1h0.85v0.85h-0.85zM397.64,370.1h0.85v0.85h-0.85zM388.11,354.1h0.85v0.85h-0.85zM422.94,381.1h0.85v0.85h-0.85zM470.24,368.1h0.85v0.85h-0.85zM468.18,409.1h0.85v0.85h-0.85zM459,397.1h0.85v0.85h-0.85zM377.76,447.1h0.85v0.85h-0.85zM381.5,436.1h0.85v0.85h-0.85zM392.01,417.1h0.85v0.85h-0.85zM476.42,347.1h0.85v0.85h-0.85zM459.94,400.1h0.85v0.85h-0.85zM405.79,427.1h0.85v0.85h-0.85zM413.32,403.1h0.85v0.85h-0.85zM491.53,354.1h0.85v0.85h-0.85zM394.88,442.1h0.85v0.85h-0.85zM388.69,453.1h0.85v0.85h-0.85zM400.9,399.1h0.85v0.85h-0.85zM372.56,351.1h0.85v0.85h-0.85zM407.62,411.1h0.85v0.85h-0.85zM382.25,415.1h0.85v0.85h-0.85zM403.52,449.1h0.85v0.85h-0.85zM405.05,441.1h0.85v0.85h-0.85zM373.76,415.1h0.85v0.85h-0.85zM469.26,448.1h0.85v0.85h-0.85zM458.08,383.1h0.85v0.85h-0.85zM474.55,420.1h0.85v0.85h-0.85zM476.87,393.1h0.85v0.85h-0.85zM412.09,444.1h0.85v0.85h-0.85zM475.57,362.1h0.85v0.85h-0.85zM467.94,454.1h0.85v0.85h-0.85zM481.04,398.1h0.85v0.85h-0.85zM456.51,392.1h0.85v0.85h-0.85zM462,405.1h0.85v0.85h-0.85zM475.14,358.1h0.85v0.85h-0.85zM452.1,440.1h0.85v0.85h-0.85zM419.01,370.1h0.85v0.85h-0.85zM463.51,384.1h0.85v0.85h-0.85zM387.61,406.1h0.85v0.85h-0.85zM461.09,387.1h0.85v0.85h-0.85zM390.63,387.1h0.85v0.85h-0.85zM478.52,340.1h0.85v0.85h-0.85zM451.6,390.1h0.85v0.85h-0.85zM480.53,423.1h0.85v0.85h-0.85zM446.74,435.1h0.85v0.85h-0.85zM374.35,415.1h0.85v0.85h-0.85zM461.87,347.1h0.85v0.85h-0.85zM451.42,380.1h0.85v0.85h-0.85zM376.96,372.1h0.85v0.85h-0.85zM408.94,456.1h0.85v0.85h-0.85zM429.32,456.1h0.85v0.85h-0.85zM398.89,453.1h0.85v0.85h-0.85zM477.83,434.1h0.85v0.85h-0.85zM480.42,374.1h0.85v0.85h-0.85zM428.94,410.1h0.85v0.85h-0.85zM451.7,362.1h0.85v0.85h-0.85zM466.24,414.1h0.85v0.85h-0.85zM395.03,437.1h0.85v0.85h-0.85zM385.15,366.1h0.85v0.85h-0.85zM427.86,450.1h0.85v0.85h-0.85zM462.41,448.1h0.85v0.85h-0.85zM396.09,367.1h0.85v0.85h-0.85zM425.32,372.1h0.85v0.85h-0.85zM455.62,452.1h0.85v0.85h-0.85zM425.22,360.1h0.85v0.85h-0.85zM446.26,373.1h0.85v0.85h-0.85zM494.68,364.1h0.85v0.85h-0.85zM478.71,362.1h0.85v0.85h-0.85zM454.91,364.1h0.85v0.85h-0.85zM422.58,353.1h0.85v0.85h-0.85zM457.93,401.1h0.85v0.85h-0.85zM452.21,404.1h0.85v0.85h-0.85zM385.82,342.1h0.85v0.85h-0.85zM380.33,371.1h0.85v0.85h-0.85zM461.13,361.1h0.85v0.85h-0.85zM448.89,383.1h0.85v0.85h-0.85zM420.79,454.1h0.85v0.85h-0.85zM466.14,450.1h0.85v0.85h-0.85zM381.04,366.1h0.85v0.85h-0.85zM428.65,358.1h0.85v0.85h-0.85zM451.52,414.1h0.85v0.85h-0.85zM430.28,357.1h0.85v0.85h-0.85zM464.93,363.1h0.85v0.85h-0.85zM489.58,374.1h0.85v0.85h-0.85zM383.28,393.1h0.85v0.85h-0.85zM495.28,366.1h0.85v0.85h-0.85zM493.8,390.1h0.85v0.85h-0.85zM405.56,355.1h0.85v0.85h-0.85zM407.92,443.1h0.85v0.85h-0.85zM396.61,368.1h0.85v0.85h-0.85zM459.25,344.1h0.85v0.85h-0.85zM488.02,397.1h0.85v0.85h-0.85zM462.19,434.1h0.85v0.85h-0.85zM452.9,442.1h0.85v0.85h-0.85zM396.44,416.1h0.85v0.85h-0.85zM464.87,340.1h0.85v0.85h-0.85zM462.36,449.1h0.85v0.85h-0.85zM483.68,399.1h0.85v0.85h-0.85zM410.46,433.1h0.85v0.85h-0.85zM385.67,451.1h0.85v0.85h-0.85zM423.36,398.1h0.85v0.85h-0.85zM458.43,409.1h0.85v0.85h-0.85zM416.34,451.1h0.85v0.85h-0.85zM385.45,378.1h0.85v0.85h-0.85zM418.67,377.1h0.85v0.85h-0.85zM390.29,354.1h0.85v0.85h-0.85zM381.55,401.1h0.85v0.85h-0.85zM409.78,394.1h0.85v0.85h-0.85zM448.11,369.1h0.85v0.85h-0.85zM374.32,351.1h0.85v0.85h-0.85zM477.67,392.1h0.85v0.85h-0.85zM495.49,363.1h0.85v0.85h-0.85zM382.73,413.1h0.85v0.85h-0.85zM432.52,341.1h0.85v0.85h-0.85zM401.49,380.1h0.85v0.85h-0.85zM467.31,369.1h0.85v0.85h-0.85zM429.62,430.1h0.85v0.85h-0.85zM399.74,432.1h0.85v0.85h-0.85zM490.92,449.1h0.85v0.85h-0.85zM426.73,439.1h0.85v0.85h-0.85zM399.81,395.1h0.85v0.85h-0.85zM415.84,367.1h0.85v0.85h-0.85zM376.78,366.1h0.85v0.85h-0.85zM467.1,455.1h0.85v0.85h-0.85zM462.16,347.1h0.85v0.85h-0.85zM405.74,351.1h0.85v0.85h-0.85zM387.56,352.1h0.85v0.85h-0.85zM396.04,432.1h0.85v0.85h-0.85zM376.98,348.1h0.85v0.85h-0.85zM466.51,411.1h0.85v0.85h-0.85zM458.64,343.1h0.85v0.85h-0.85zM469.24,406.1h0.85v0.85h-0.85zM398.17,352.1h0.85v0.85h-0.85zM397.59,376.1h0.85v0.85h-0.85zM475.91,418.1h0.85v0.85h-0.85zM423.37,357.1h0.85v0.85h-0.85zM428.39,372.1h0.85v0.85h-0.85zM404.77,455.1h0.85v0.85h-0.85zM415.45,432.1h0.85v0.85h-0.85zM411.81,344.1h0.85v0.85h-0.85zM375.93,431.1h0.85v0.85h-0.85zM385.42,425.1h0.85v0.85h-0.85zM458.35,359.1h0.85v0.85h-0.85zM423.96,414.1h0.85v0.85h-0.85zM452.54,403.1h0.85v0.85h-0.85zM396.36,424.1h0.85v0.85h-0.85zM458.16,386.1h0.85v0.85h-0.85zM425.07,393.1h0.85v0.85h-0.85zM455.32,340.1h0.85v0.85h-0.85zM478.36,417.1h0.85v0.85h-0.85zM394.47,407.1h0.85v0.85h-0.85zM376.37,345.1h0.85v0.85h-0.85zM403.2,453.1h0.85v0.85h-0.85zM458.42,445.1h0.85v0.85h-0.85zM476.17,454.1h0.85v0.85h-0.85zM425.53,347.1h0.85v0.85h-0.85zM398.56,445.1h0.85v0.85h-0.85zM399.39,397.1h0.85v0.85h-0.85zM489.82,441.1h0.85v0.85h-0.85zM386.22,349.1h0.85v0.85h-0.85zM386.64,369.1h0.85v0.85h-0.85zM377.36,406.1h0.85v0.85h-0.85zM424.78,421.1h0.85v0.85h-0.85zM434.17,352.1h0.85v0.85h-0.85zM398.54,343.1h0.85v0.85h-0.85zM395.42,449.1h0.85v0.85h-0.85zM396.09,419.1h0.85v0.85h-0.85zM417.49,428.1h0.85v0.85h-0.85zM380.3,364.1h0.85v0.85h-0.85zM403.58,423.1h0.85v0.85h-0.85zM478.85,354.1h0.85v0.85h-0.85zM391.99,443.1h0.85v0.85h-0.85zM402.3,429.1h0.85v0.85h-0.85zM393.55,453.1h0.85v0.85h-0.85zM428.66,411.1h0.85v0.85h-0.85zM405.97,450.1h0.85v0.85h-0.85z" fill="#bababa"/>
<rect x="370.9" y="339.2" width="125.8" height="118.8" fill="none" stroke="#111" stroke-width="1.6"/>
<line x1="368.7" y1="458" x2="370.9" y2="458" stroke="#000" stroke-width="1"/>
<line x1="368.7" y1="438.2" x2="370.9" y2="438.2" stroke="#000" stroke-width="1"/>
<line x1="368.7" y1="418.4" x2="370.9" y2="418.4" stroke="#000" stroke-width="1"/>
<line x1="368.7" y1="398.6" x2="370.9" y2="398.6" stroke="#000" stroke-width="1"/>
<line x1="368.7" y1="378.8" x2="370.9" y2="378.8" stroke="#000" stroke-width="1"/>
<line x1="368.7" y1="359" x2="370.9" y2="359" stroke="#000" stroke-width="1"/>
<line x1="368.7" y1="339.2" x2="370.9" y2="339.2" stroke="#000" stroke-width="1"/>
<text x="359.35" y="460.95" font-size="10.71" fill="#111" stroke="#111" textLength="6.26" lengthAdjust="spacingAndGlyphs">0</text>
<text x="354.2" y="422.75" font-size="10.71" fill="#111" stroke="#111" textLength="11.33" lengthAdjust="spacingAndGlyphs">40</text>
<text x="353.98" y="382.75" font-size="10.71" fill="#111" stroke="#111" textLength="11.55" lengthAdjust="spacingAndGlyphs">80</text>
<text x="348.16" y="343.35" font-size="10.71" fill="#111" stroke="#111" textLength="17.44" lengthAdjust="spacingAndGlyphs">120</text>
<line x1="383.48" y1="458" x2="383.48" y2="460.2" stroke="#000" stroke-width="1"/>
<text x="372.13" y="471.7" font-size="10.86" fill="#111" stroke="#111" textLength="20.22" lengthAdjust="spacingAndGlyphs">-400</text>
<line x1="408.64" y1="458" x2="408.64" y2="460.2" stroke="#000" stroke-width="1"/>
<text x="397.29" y="471.7" font-size="10.86" fill="#111" stroke="#111" textLength="20.22" lengthAdjust="spacingAndGlyphs">-200</text>
<line x1="433.8" y1="458" x2="433.8" y2="460.2" stroke="#000" stroke-width="1"/>
<text x="430.59" y="471.7" font-size="10.86" fill="#111" stroke="#111" textLength="6.37" lengthAdjust="spacingAndGlyphs">0</text>
<line x1="458.96" y1="458" x2="458.96" y2="460.2" stroke="#000" stroke-width="1"/>
<text x="450.19" y="471.7" font-size="10.86" fill="#111" stroke="#111" textLength="17.42" lengthAdjust="spacingAndGlyphs">200</text>
<line x1="484.12" y1="458" x2="484.12" y2="460.2" stroke="#000" stroke-width="1"/>
<text x="475.67" y="471.7" font-size="10.86" fill="#111" stroke="#111" textLength="17.1" lengthAdjust="spacingAndGlyphs">400</text>
<text x="408.36" y="485.7" font-size="13.48" fill="#111" stroke="#111" textLength="52.91" lengthAdjust="spacingAndGlyphs">Time [ms]</text>
<text x="0" y="0" font-size="10.58" fill="#111" stroke="#111" textLength="37.56" lengthAdjust="spacingAndGlyphs" transform="translate(346.9,416.2) rotate(-90)">Trials [#]</text>
<rect x="259.95" y="341.4" width="21.6" height="119.6" fill="#dcdcdc"/>
<path d="M189,438.73 L189.25,438.67 L189.49,439.3 L189.74,438.66 L189.99,438.95 L190.23,439.43 L190.48,439.56 L190.73,439.55 L190.97,439.15 L191.22,438.7 L191.47,438.66 L191.71,438.95 L191.96,439.76 L192.21,439.62 L192.46,438.56 L192.7,438.25 L192.95,438 L193.2,438.47 L193.44,439.11 L193.69,438.63 L193.94,438.64 L194.18,438.99 L194.43,439.31 L194.68,439.16 L194.92,438.99 L195.17,438.72 L195.42,438.7 L195.66,438.55 L195.91,439.07 L196.16,438.91 L196.4,438.91 L196.65,439.43 L196.9,439.45 L197.14,438.76 L197.39,438.75 L197.64,438.99 L197.88,439 L198.13,439.21 L198.38,439.11 L198.63,439.21 L198.87,438.93 L199.12,438.71 L199.37,438.94 L199.61,438.9 L199.86,439.35 L200.11,439.43 L200.35,439.58 L200.6,439.23 L200.85,439.05 L201.09,439.14 L201.34,439 L201.59,438.42 L201.83,438.52 L202.08,439.17 L202.33,438.97 L202.57,439.61 L202.82,439.53 L203.07,439.18 L203.31,439.15 L203.56,439.49 L203.81,439.42 L204.05,439.18 L204.3,439.36 L204.55,439.28 L204.8,438.77 L205.04,438.64 L205.29,438.95 L205.54,439.05 L205.78,439.1 L206.03,439.27 L206.28,439.4 L206.52,439.4 L206.77,438.94 L207.02,439.01 L207.26,439.08 L207.51,438.92 L207.76,438.66 L208,438.5 L208.25,439.02 L208.5,439.2 L208.74,439.12 L208.99,439.17 L209.24,438.58 L209.48,438.47 L209.73,438.7 L209.98,438.91 L210.22,438.67 L210.47,438.52 L210.72,438.77 L210.97,439.28 L211.21,439.57 L211.46,438.95 L211.71,439.16 L211.95,439.28 L212.2,438.78 L212.45,438.98 L212.69,439.52 L212.94,439.28 L213.19,439.03 L213.43,438.95 L213.68,439.65 L213.93,439.42 L214.17,438.97 L214.42,438.68 L214.67,439.61 L214.91,440.39 L215.16,439.86 L215.41,439.02 L215.65,438.51 L215.9,438.28 L216.15,438.79 L216.39,439.18 L216.64,438.82 L216.89,438.96 L217.14,439.11 L217.38,438.91 L217.63,438.69 L217.88,439.34 L218.12,439.53 L218.37,439.2 L218.62,439.17 L218.86,439.45 L219.11,439.41 L219.36,438.85 L219.6,438.43 L219.85,438.54 L220.1,438.56 L220.34,438.75 L220.59,439.79 L220.84,439.91 L221.08,439.62 L221.33,439.67 L221.58,439.53 L221.82,439.29 L222.07,439.55 L222.32,439.6 L222.56,439.95 L222.81,439.48 L223.06,438.74 L223.31,439.04 L223.55,438.91 L223.8,438.81 L224.05,439.06 L224.29,438.87 L224.54,438.81 L224.79,438.84 L225.03,439.36 L225.28,439.76 L225.53,439.65 L225.77,439.3 L226.02,438.94 L226.27,439.1 L226.51,439.23 L226.76,439.02 L227.01,438.74 L227.25,438.94 L227.5,438.72 L227.75,439.37 L227.99,439.3 L228.24,438.74 L228.49,438.86 L228.73,439.3 L228.98,439.27 L229.23,439.21 L229.48,438.76 L229.72,438.83 L229.97,439.19 L230.22,439.03 L230.46,439.14 L230.71,439.1 L230.96,439.1 L231.2,439.19 L231.45,438.9 L231.7,438.78 L231.94,438.7 L232.19,438.63 L232.44,439.19 L232.68,439.67 L232.93,439.37 L233.18,439.03 L233.42,438.94 L233.67,438.74 L233.92,438.7 L234.16,439 L234.41,439.21 L234.66,439.29 L234.9,438.82 L235.15,439.14 L235.4,439.6 L235.65,439.62 L235.89,439.14 L236.14,438.44 L236.39,438.78 L236.63,439.57 L236.88,439.26 L237.13,438.89 L237.37,438.74 L237.62,438.92 L237.87,439.18 L238.11,439.04 L238.36,439.46 L238.61,440 L238.85,439.65 L239.1,439.26 L239.35,438.66 L239.59,438.67 L239.84,439.27 L240.09,439.09 L240.33,439.16 L240.58,439.79 L240.83,439.96 L241.07,439.31 L241.32,439.08 L241.57,439.56 L241.82,440.09 L242.06,439.45 L242.31,439.36 L242.56,439.47 L242.8,439.4 L243.05,439.42 L243.3,438.98 L243.54,439.04 L243.79,439.21 L244.04,439.01 L244.28,439.2 L244.53,439.61 L244.78,439.33 L245.02,439.43 L245.27,439.8 L245.52,439.43 L245.76,439.04 L246.01,439.05 L246.26,438.41 L246.5,438.3 L246.75,438.88 L247,438.64 L247.24,438.3 L247.49,439.03 L247.74,439.46 L247.99,439.47 L248.23,439.75 L248.48,439.67 L248.73,439.18 L248.97,439.14 L249.22,438.95 L249.47,438.93 L249.71,439.28 L249.96,439.24 L250.21,439.24 L250.33,439.41 L250.45,447.27 L250.58,454.8 L250.7,451.11 L250.95,426.88 L251.19,392.01 L251.44,360.77 L251.69,347.27 L251.93,385.1 L252.18,443.5 L252.3,454.8 L252.43,454.97 L252.67,455.35 L252.92,455.45 L253.17,455.39 L253.41,455.33 L253.66,455.38 L253.91,455.55 L254.16,455.58 L254.4,455.58 L254.65,455.5 L254.9,455.52 L255.14,455.6 L255.39,455.63 L255.64,455.56 L255.88,455.53 L256.13,455.64 L256.38,455.64 L256.62,455.6 L256.87,455.59 L257.12,455.6 L257.36,455.68 L257.61,455.71 L257.86,455.75 L258.1,455.6 L258.35,455.55 L258.6,455.7 L258.84,455.63 L259.09,455.49 L259.34,455.56 L259.58,455.62 L259.83,455.48 L260.08,455.5 L260.33,455.39 L260.57,455.44 L260.82,455.44 L261.07,455.36 L261.31,455.29 L261.56,455.21 L261.81,455.18 L261.93,455.17 L262.05,455.02 L262.3,454.63 L262.55,454 L262.79,453.15 L263.04,452.2 L263.29,451.2 L263.53,450.1 L263.78,448.87 L264.03,447.49 L264.27,445.94 L264.52,444.36 L264.77,442.63 L265.01,440.88 L265.14,440.11 L265.26,439.13 L265.51,437.08 L265.75,435.08 L266,432.83 L266.25,430.61 L266.5,428.25 L266.74,425.93 L266.99,423.56 L267.24,421 L267.48,418.18 L267.73,415.22 L267.98,412.42 L268.22,409.93 L268.47,407.87 L268.59,406.98 L268.72,406.26 L268.96,404.87 L269.21,403.54 L269.46,402.2 L269.7,401.18 L269.95,400.54 L270.2,400.27 L270.44,400.64 L270.69,401.66 L270.94,403.03 L271.18,404.68 L271.43,406.45 L271.68,408.15 L271.92,409.92 L272.17,411.94 L272.42,414.07 L272.67,416.3 L272.91,418.59 L273.16,420.47 L273.41,421.76 L273.65,422.71 L273.9,423.52 L274.15,424.23 L274.39,424.93 L274.64,425.45 L274.89,425.94 L275.13,426.4 L275.38,426.88 L275.63,427.39 L275.87,427.85 L276.12,428.44 L276.37,428.86 L276.61,429.21 L276.86,429.52 L277.11,429.79 L277.35,430.07 L277.6,430.19 L277.85,430.4 L278.09,430.65 L278.34,430.86 L278.59,431.15 L278.84,431.38 L279.08,431.39 L279.33,431.45 L279.58,431.63 L279.82,431.88 L280.07,431.99 L280.32,432.05 L280.56,432.29 L280.81,432.6 L281.06,432.96 L281.3,433.28 L281.55,433.67 L281.8,433.88 L282.04,434.76 L282.29,435.26 L282.54,435.97 L282.78,436.19 L283.03,436.32 L283.28,436.99 L283.52,437.23 L283.77,437.17 L284.02,437.75 L284.26,437.94 L284.51,438.39 L284.76,438.6 L285.01,438.13 L285.25,438 L285.5,438.14 L285.75,437.51 L285.99,436.44 L286.24,435.45 L286.49,435.45 L286.73,435.05 L286.98,434.43 L287.23,434.17 L287.47,433.79 L287.72,432.78 L287.97,432.73 L288.21,433.36 L288.46,432.33 L288.71,431.75 L288.95,431.55 L289.2,431.61 L289.45,431.24 L289.69,430.72 L289.94,430.59 L290.19,430.62 L290.43,430.85 L290.68,430.94 L290.93,431.16 L291.18,431.48 L291.42,430.75 L291.67,431.07 L291.92,431.34 L292.16,431.42 L292.41,431.7 L292.66,432.39 L292.9,432.14 L293.15,432.48 L293.4,432.78 L293.64,433.16 L293.89,433.06 L294.14,432.48 L294.38,432.66 L294.63,432.77 L294.88,432.97 L295.12,433.37 L295.37,433.48 L295.62,433.59 L295.86,433.63 L296.11,434.06 L296.36,433.57 L296.6,432.93 L296.85,432.76 L297.1,432.9 L297.35,433.39 L297.59,433.85 L297.84,433.46 L298.09,433.47 L298.33,433.84 L298.58,434.27 L298.83,433.8 L299.07,433.39 L299.32,433.67 L299.57,434.06 L299.81,434.02 L300.06,434.15 L300.31,434.13 L300.55,433.98 L300.8,434.16 L301.05,434.33 L301.29,434.44 L301.54,434.9 L301.79,434.97 L302.03,434.64 L302.28,434.75 L302.53,434.8 L302.77,435.19 L303.02,434.59 L303.27,434.52 L303.52,434.57 L303.76,435.78 L304.01,435.66 L304.26,434.64 L304.5,434.73 L304.75,434.88 L305,434.95 L305.24,434.94 L305.49,435.01 L305.74,435.45 L305.98,435.18 L306.23,434.72 L306.48,435.07 L306.72,435.43 L306.97,435.18 L307.22,434.93 L307.46,435.28 L307.71,435.36 L307.96,435.1 L308.2,434.84 L308.45,434.79 L308.7,435.25 L308.94,435.21 L309.19,435.28 L309.44,436.02 L309.69,435.62 L309.93,435.35 L310.18,435.61 L310.43,435.8 L310.67,435.31 L310.92,435.08 L311.17,435.53 L311.41,435.81 L311.66,435.56 L311.91,434.95 L312.15,435 L312.4,435.48" fill="none" stroke="#111" stroke-width="1.2" stroke-linejoin="round"/>
<rect x="189.2" y="341.4" width="123.4" height="119.6" fill="none" stroke="#111" stroke-width="1.3"/>
<line x1="187" y1="456" x2="189.2" y2="456" stroke="#000" stroke-width="1"/>
<line x1="187" y1="436.05" x2="189.2" y2="436.05" stroke="#000" stroke-width="1"/>
<line x1="187" y1="416.1" x2="189.2" y2="416.1" stroke="#000" stroke-width="1"/>
<line x1="187" y1="396.15" x2="189.2" y2="396.15" stroke="#000" stroke-width="1"/>
<line x1="187" y1="376.2" x2="189.2" y2="376.2" stroke="#000" stroke-width="1"/>
<line x1="187" y1="356.25" x2="189.2" y2="356.25" stroke="#000" stroke-width="1"/>
<text x="179.26" y="459.9" font-size="10.29" fill="#111" stroke="#111" textLength="6.14" lengthAdjust="spacingAndGlyphs">0</text>
<text x="173.89" y="420" font-size="10.29" fill="#111" stroke="#111" textLength="11.45" lengthAdjust="spacingAndGlyphs">20</text>
<text x="174.2" y="380.1" font-size="10.29" fill="#111" stroke="#111" textLength="11.12" lengthAdjust="spacingAndGlyphs">40</text>
<line x1="189" y1="461" x2="189" y2="463.2" stroke="#000" stroke-width="1"/>
<text x="183.85" y="473.8" font-size="10.86" fill="#111" stroke="#111" textLength="20.22" lengthAdjust="spacingAndGlyphs">-500</text>
<line x1="219.85" y1="461" x2="219.85" y2="463.2" stroke="#000" stroke-width="1"/>
<text x="209.8" y="473.8" font-size="10.86" fill="#111" stroke="#111" textLength="20.22" lengthAdjust="spacingAndGlyphs">-250</text>
<line x1="250.7" y1="461" x2="250.7" y2="463.2" stroke="#000" stroke-width="1"/>
<text x="247.49" y="473.8" font-size="10.86" fill="#111" stroke="#111" textLength="6.37" lengthAdjust="spacingAndGlyphs">0</text>
<line x1="281.55" y1="461" x2="281.55" y2="463.2" stroke="#000" stroke-width="1"/>
<text x="272.78" y="473.8" font-size="10.86" fill="#111" stroke="#111" textLength="17.42" lengthAdjust="spacingAndGlyphs">250</text>
<line x1="312.4" y1="461" x2="312.4" y2="463.2" stroke="#000" stroke-width="1"/>
<text x="296.13" y="473.8" font-size="10.86" fill="#111" stroke="#111" textLength="17.31" lengthAdjust="spacingAndGlyphs">500</text>
<text x="224.96" y="485.7" font-size="13.48" fill="#111" stroke="#111" textLength="53.12" lengthAdjust="spacingAndGlyphs">Time [ms]</text>
<text x="0" y="0" font-size="10.14" fill="#111" stroke="#111" textLength="66.9" lengthAdjust="spacingAndGlyphs" transform="translate(171,437.02) rotate(-90)">Firing rate [Hz]</text>
<rect x="599.96" y="338.2" width="21.6" height="119.8" fill="#dcdcdc"/>
<path d="M529,433.6 L529.25,433.71 L529.49,433.64 L529.74,433.16 L529.99,432.7 L530.23,433.24 L530.48,432.65 L530.73,432.43 L530.97,433.01 L531.22,433.19 L531.47,432.72 L531.71,432.2 L531.96,431.92 L532.21,432.18 L532.46,432.32 L532.7,433.03 L532.95,433.52 L533.2,433.81 L533.44,433.61 L533.69,433.2 L533.94,433.08 L534.18,433.3 L534.43,432.83 L534.68,432.97 L534.92,433.28 L535.17,433.06 L535.42,432.3 L535.66,432.76 L535.91,433.37 L536.16,433.18 L536.4,432.47 L536.65,432.8 L536.9,432.42 L537.14,432.58 L537.39,433.45 L537.64,432.77 L537.88,432.99 L538.13,433.43 L538.38,433.21 L538.63,432.77 L538.87,432.7 L539.12,432.84 L539.37,433.01 L539.61,432.4 L539.86,432.04 L540.11,431.99 L540.35,432.15 L540.6,431.9 L540.85,431.89 L541.09,432.34 L541.34,432.48 L541.59,432.57 L541.83,432.58 L542.08,432.78 L542.33,433.5 L542.57,433.21 L542.82,433.07 L543.07,433.82 L543.31,433.53 L543.56,432.68 L543.81,433.2 L544.05,433.2 L544.3,432.93 L544.55,433.18 L544.8,433.38 L545.04,433.29 L545.29,433.24 L545.54,433.19 L545.78,432.77 L546.03,432.31 L546.28,432.44 L546.52,432.24 L546.77,432.39 L547.02,432.5 L547.26,432.68 L547.51,432.94 L547.76,432.8 L548,432.93 L548.25,433.23 L548.5,432.75 L548.74,432.62 L548.99,432.82 L549.24,433.43 L549.48,433.79 L549.73,432.75 L549.98,433.07 L550.22,433.67 L550.47,433.07 L550.72,433.05 L550.97,432.81 L551.21,432.78 L551.46,432.54 L551.71,432.71 L551.95,432.81 L552.2,432.73 L552.45,432.66 L552.69,433.14 L552.94,432.61 L553.19,432.64 L553.43,433.08 L553.68,433.08 L553.93,433.12 L554.17,432.88 L554.42,432.7 L554.67,433.01 L554.91,432.67 L555.16,432.46 L555.41,432.44 L555.65,432.34 L555.9,432.72 L556.15,432.43 L556.39,431.99 L556.64,432.68 L556.89,433.02 L557.14,432.91 L557.38,432.83 L557.63,433.15 L557.88,433.34 L558.12,433.76 L558.37,433.68 L558.62,433.6 L558.86,433.57 L559.11,433.19 L559.36,432.82 L559.6,433.19 L559.85,433.47 L560.1,433.03 L560.34,433.05 L560.59,433.44 L560.84,433.22 L561.08,433.42 L561.33,433.42 L561.58,433.22 L561.82,432.87 L562.07,433.22 L562.32,433.18 L562.56,432.83 L562.81,432.45 L563.06,432.56 L563.31,433.07 L563.55,432.65 L563.8,432.6 L564.05,432.4 L564.29,432.53 L564.54,433.05 L564.79,433.08 L565.03,433.05 L565.28,432.7 L565.53,432.35 L565.77,432.86 L566.02,432.92 L566.27,432.28 L566.51,433.05 L566.76,433.12 L567.01,433.16 L567.25,433.36 L567.5,432.74 L567.75,432.53 L567.99,432.9 L568.24,433.01 L568.49,433.27 L568.73,433.63 L568.98,433.28 L569.23,433.54 L569.48,433.45 L569.72,432.87 L569.97,432.73 L570.22,433.08 L570.46,432.5 L570.71,432.22 L570.96,432.75 L571.2,433 L571.45,433 L571.7,433.24 L571.94,433.3 L572.19,432.8 L572.44,432.74 L572.68,433.16 L572.93,433.3 L573.18,433.38 L573.42,433.47 L573.67,433.64 L573.92,433.58 L574.16,432.93 L574.41,433.04 L574.66,432.83 L574.9,432.44 L575.15,432.93 L575.4,433.05 L575.65,433.53 L575.89,433.34 L576.14,432.9 L576.39,433.22 L576.63,433.77 L576.88,433.73 L577.13,433.22 L577.37,433.26 L577.62,432.89 L577.87,432.92 L578.11,433.15 L578.36,433.03 L578.61,432.8 L578.85,433.07 L579.1,433.36 L579.35,433.1 L579.59,433.18 L579.84,433.13 L580.09,432.86 L580.33,432.77 L580.58,432.7 L580.83,433.08 L581.07,433.3 L581.32,433.21 L581.57,433.08 L581.82,433.37 L582.06,433.41 L582.31,433.52 L582.56,433.48 L582.8,432.96 L583.05,432.3 L583.3,432.91 L583.54,433.04 L583.79,433.05 L584.04,433.14 L584.28,432.88 L584.53,432.44 L584.78,432.78 L585.02,432.5 L585.27,432.79 L585.52,433.41 L585.76,433.49 L586.01,433.48 L586.26,433.42 L586.5,432.79 L586.75,432.78 L587,433.01 L587.24,433.37 L587.49,433.14 L587.74,432.98 L587.99,432.35 L588.23,432.85 L588.48,433 L588.73,433.01 L588.97,433.3 L589.22,433.38 L589.47,433.23 L589.71,432.98 L589.96,433.32 L590.21,433.25 L590.39,452.9 L590.45,452.84 L590.7,446.2 L590.95,434.65 L591.19,422.5 L591.44,414.29 L591.56,413 L591.69,418.76 L591.93,436.97 L592.18,439.91 L592.43,441.43 L592.55,441.96 L592.67,442.44 L592.92,443.08 L593.17,443.51 L593.41,444.09 L593.66,444.45 L593.79,444.44 L593.91,444.55 L594.16,444.79 L594.4,444.95 L594.65,445.24 L594.9,445.4 L595.14,445.5 L595.39,445.42 L595.64,445.42 L595.76,445.33 L595.88,445.41 L596.13,445.46 L596.38,445.51 L596.62,445.44 L596.87,445.25 L597.12,445.06 L597.36,445.05 L597.61,444.98 L597.86,444.64 L598.1,444.46 L598.35,444.42 L598.6,444.2 L598.84,443.96 L599.09,443.82 L599.34,443.79 L599.58,443.57 L599.83,443.36 L600.08,443.08 L600.33,442.93 L600.57,442.82 L600.82,442.54 L601.07,442.32 L601.31,442.24 L601.56,442.04 L601.81,441.76 L602.05,441.5 L602.3,441.31 L602.55,441.17 L602.79,440.92 L603.04,440.57 L603.29,440.32 L603.53,440.17 L603.78,439.88 L604.03,439.58 L604.27,439.48 L604.52,439.32 L604.77,439.07 L605.01,438.73 L605.26,438.41 L605.51,438.08 L605.75,437.73 L606,437.28 L606.25,436.85 L606.5,436.43 L606.74,435.98 L606.99,435.65 L607.24,435.15 L607.36,434.92 L607.48,434.64 L607.73,434.11 L607.98,433.7 L608.22,433.2 L608.47,432.61 L608.72,431.96 L608.96,431.45 L609.21,431.09 L609.46,430.69 L609.7,430.37 L609.95,430.33 L610.07,430.47 L610.2,430.49 L610.44,430.62 L610.69,430.9 L610.94,431.31 L611.18,431.69 L611.43,432.16 L611.68,432.47 L611.92,432.83 L612.17,433.07 L612.42,433.37 L612.67,433.58 L612.91,433.78 L613.16,434.04 L613.28,434.25 L613.41,434.49 L613.65,434.8 L613.9,435.05 L614.15,434.97 L614.39,435.05 L614.64,435.28 L614.89,435.49 L615.13,435.48 L615.38,435.7 L615.63,435.83 L615.87,436.05 L616.12,436.09 L616.37,436.03 L616.61,436.14 L616.86,436.35 L617.11,436.37 L617.35,436.4 L617.6,436.57 L617.85,436.54 L618.09,436.61 L618.22,436.53 L618.34,436.51 L618.59,436.46 L618.84,436.51 L619.08,436.49 L619.33,436.44 L619.58,436.41 L619.82,436.33 L620.07,436.3 L620.32,436.19 L620.56,436.05 L620.81,435.98 L621.06,435.84 L621.3,435.74 L621.55,435.69 L621.8,435.9 L622.04,435.36 L622.29,434.77 L622.54,434.7 L622.78,434.5 L623.03,434.6 L623.28,435.26 L623.52,434.73 L623.77,434.43 L624.02,434.67 L624.26,434.83 L624.51,434.33 L624.76,433.87 L625.01,433.1 L625.25,433.16 L625.5,433.82 L625.75,434.14 L625.99,433.98 L626.24,433.7 L626.49,433.47 L626.73,432.91 L626.98,433.54 L627.23,433.45 L627.47,433.15 L627.72,433.15 L627.97,433.47 L628.21,433.29 L628.46,433.01 L628.71,432.99 L628.95,433.24 L629.2,433.16 L629.45,432.71 L629.69,432.4 L629.94,433.07 L630.19,432.64 L630.43,432.44 L630.68,433.05 L630.93,432.38 L631.18,432.21 L631.42,432.57 L631.67,432.34 L631.92,432.23 L632.16,432.7 L632.41,432.9 L632.66,433.26 L632.9,433.18 L633.15,432.88 L633.4,432.63 L633.64,432.25 L633.89,432.81 L634.14,433.13 L634.38,432.49 L634.63,432.28 L634.88,432.52 L635.12,432.84 L635.37,433.12 L635.62,432.88 L635.86,432.18 L636.11,432.26 L636.36,432.55 L636.6,432.6 L636.85,432.9 L637.1,433.14 L637.35,433 L637.59,432.98 L637.84,433.47 L638.09,433.63 L638.33,433.55 L638.58,433.01 L638.83,432.71 L639.07,433.26 L639.32,433.48 L639.57,433.49 L639.81,433.23 L640.06,433.33 L640.31,433.37 L640.55,432.99 L640.8,432.08 L641.05,432.59 L641.29,433.05 L641.54,432.89 L641.79,432.38 L642.03,432.27 L642.28,432.78 L642.53,433.31 L642.77,432.51 L643.02,432.17 L643.27,432.3 L643.52,432.49 L643.76,432.54 L644.01,432.36 L644.26,432.61 L644.5,432.49 L644.75,432.86 L645,433.02 L645.24,433.04 L645.49,433.09 L645.74,432.93 L645.98,432.39 L646.23,432.23 L646.48,432.98 L646.72,433.1 L646.97,432.52 L647.22,432.74 L647.46,432.73 L647.71,432.62 L647.96,432.58 L648.2,432.9 L648.45,432.43 L648.7,432.68 L648.94,433.55 L649.19,433.21 L649.44,432.97 L649.69,432.78 L649.93,432.94 L650.18,433.19 L650.43,433.06 L650.67,432.8 L650.92,432.86 L651.17,432.69 L651.41,432.08 L651.66,432.6 L651.91,433.25 L652.15,432.99 L652.4,432.82" fill="none" stroke="#111" stroke-width="1.2" stroke-linejoin="round"/>
<rect x="529" y="338.2" width="123.4" height="119.8" fill="none" stroke="#111" stroke-width="1.3"/>
<line x1="526.8" y1="452.9" x2="529" y2="452.9" stroke="#000" stroke-width="1"/>
<line x1="526.8" y1="432.95" x2="529" y2="432.95" stroke="#000" stroke-width="1"/>
<line x1="526.8" y1="413" x2="529" y2="413" stroke="#000" stroke-width="1"/>
<line x1="526.8" y1="393.05" x2="529" y2="393.05" stroke="#000" stroke-width="1"/>
<line x1="526.8" y1="373.1" x2="529" y2="373.1" stroke="#000" stroke-width="1"/>
<line x1="526.8" y1="353.15" x2="529" y2="353.15" stroke="#000" stroke-width="1"/>
<text x="519.06" y="456.8" font-size="10.29" fill="#111" stroke="#111" textLength="6.14" lengthAdjust="spacingAndGlyphs">0</text>
<text x="513.69" y="416.9" font-size="10.29" fill="#111" stroke="#111" textLength="11.45" lengthAdjust="spacingAndGlyphs">20</text>
<text x="514" y="377" font-size="10.29" fill="#111" stroke="#111" textLength="11.12" lengthAdjust="spacingAndGlyphs">40</text>
<line x1="529" y1="458" x2="529" y2="460.2" stroke="#000" stroke-width="1"/>
<text x="523.85" y="471" font-size="10.86" fill="#111" stroke="#111" textLength="20.22" lengthAdjust="spacingAndGlyphs">-500</text>
<line x1="559.85" y1="458" x2="559.85" y2="460.2" stroke="#000" stroke-width="1"/>
<text x="549.8" y="471" font-size="10.86" fill="#111" stroke="#111" textLength="20.22" lengthAdjust="spacingAndGlyphs">-250</text>
<line x1="590.7" y1="458" x2="590.7" y2="460.2" stroke="#000" stroke-width="1"/>
<text x="587.49" y="471" font-size="10.86" fill="#111" stroke="#111" textLength="6.37" lengthAdjust="spacingAndGlyphs">0</text>
<line x1="621.55" y1="458" x2="621.55" y2="460.2" stroke="#000" stroke-width="1"/>
<text x="612.78" y="471" font-size="10.86" fill="#111" stroke="#111" textLength="17.42" lengthAdjust="spacingAndGlyphs">250</text>
<line x1="652.4" y1="458" x2="652.4" y2="460.2" stroke="#000" stroke-width="1"/>
<text x="636.13" y="471" font-size="10.86" fill="#111" stroke="#111" textLength="17.31" lengthAdjust="spacingAndGlyphs">500</text>
<text x="564.76" y="485.7" font-size="13.48" fill="#111" stroke="#111" textLength="53.12" lengthAdjust="spacingAndGlyphs">Time [ms]</text>
<text x="0" y="0" font-size="10.14" fill="#111" stroke="#111" textLength="67.82" lengthAdjust="spacingAndGlyphs" transform="translate(511.1,434.43) rotate(-90)">Firing rate [Hz]</text>
<path d="M237.4,425.88 L241.87,423.75 L243.63,427 L242.98,427.37 L245.96,429.79 L245.22,430.35 L249.4,436.3 L243.17,432.39 L243.91,431.74 L240.38,429.6 L241.12,428.86 Z" fill="#fff000" stroke="#111" stroke-width="0.8" stroke-linejoin="miter"/>
<path d="M577.7,422.18 L582.17,420.05 L583.93,423.3 L583.28,423.67 L586.26,426.09 L585.52,426.65 L589.7,432.6 L583.47,428.69 L584.21,428.04 L580.68,425.9 L581.42,425.16 Z" fill="#fff000" stroke="#111" stroke-width="0.8" stroke-linejoin="miter"/>
<text x="1.59" y="538.8" font-size="25.07" fill="#000" font-weight="bold" textLength="15.37" lengthAdjust="spacingAndGlyphs">E</text>
<line x1="51.5" y1="544.5" x2="80.6" y2="544.5" stroke="#222" stroke-width="1"/>
<text x="60.87" y="541.8" font-size="9" fill="#555" stroke="#555" textLength="10.33" lengthAdjust="spacingAndGlyphs">***</text>
<line x1="50.2" y1="583.8" x2="50.2" y2="615.4" stroke="#6a6a6a" stroke-width="1.15" stroke-dasharray="3.4,2.9"/>
<line x1="50.2" y1="638.8" x2="50.2" y2="651" stroke="#6a6a6a" stroke-width="1.15" stroke-dasharray="3.4,2.9"/>
<line x1="46.8" y1="582.6" x2="53.6" y2="582.6" stroke="#6a6a6a" stroke-width="1.2"/>
<line x1="46.8" y1="651" x2="53.6" y2="651" stroke="#6a6a6a" stroke-width="1.2"/>
<rect x="43.9" y="615.9" width="12.6" height="21.2" fill="#ffffff" stroke="#c0c0c0" stroke-width="1"/>
<line x1="43.4" y1="627.4" x2="57" y2="627.4" stroke="#404040" stroke-width="1.5"/>
<line x1="80.6" y1="570.6" x2="80.6" y2="591.4" stroke="#ff4848" stroke-width="1.15" stroke-dasharray="3.4,2.9"/>
<line x1="80.6" y1="608.2" x2="80.6" y2="630" stroke="#ff4848" stroke-width="1.15" stroke-dasharray="3.4,2.9"/>
<line x1="77.2" y1="569.4" x2="84" y2="569.4" stroke="#ff4848" stroke-width="1.2"/>
<line x1="77.2" y1="630" x2="84" y2="630" stroke="#ff4848" stroke-width="1.2"/>
<rect x="74.1" y="591.9" width="13" height="14.6" fill="#ffffff" stroke="#ff5a5a" stroke-width="1"/>
<line x1="73.6" y1="600.2" x2="87.6" y2="600.2" stroke="#f01010" stroke-width="1.5"/>
<line x1="33.8" y1="545" x2="33.8" y2="664.6" stroke="#000" stroke-width="1.2"/>
<line x1="33.2" y1="664" x2="93.6" y2="664" stroke="#000" stroke-width="1.2"/>
<line x1="31.6" y1="651.1" x2="33.8" y2="651.1" stroke="#000" stroke-width="1"/>
<line x1="31.6" y1="608.65" x2="33.8" y2="608.65" stroke="#000" stroke-width="1"/>
<line x1="31.6" y1="566.2" x2="33.8" y2="566.2" stroke="#000" stroke-width="1"/>
<text x="23.55" y="654.85" font-size="10.14" fill="#111" stroke="#111" textLength="6.26" lengthAdjust="spacingAndGlyphs">0</text>
<text x="17.74" y="612.4" font-size="10.14" fill="#111" stroke="#111" textLength="12.01" lengthAdjust="spacingAndGlyphs">10</text>
<text x="18.08" y="569.95" font-size="10.14" fill="#111" stroke="#111" textLength="11.66" lengthAdjust="spacingAndGlyphs">20</text>
<line x1="50.2" y1="664" x2="50.2" y2="666" stroke="#000" stroke-width="1"/>
<line x1="80.6" y1="664" x2="80.6" y2="666" stroke="#000" stroke-width="1"/>
<text x="37.66" y="674.7" font-size="11.01" fill="#111" stroke="#111" textLength="19" lengthAdjust="spacingAndGlyphs">Rest</text>
<text x="64.4" y="674.7" font-size="11.45" fill="#ff0000" stroke="#ff0000" textLength="28.04" lengthAdjust="spacingAndGlyphs">Active</text>
<text x="0" y="0" font-size="10.72" fill="#a8a8a8" stroke="#a8a8a8" textLength="119.48" lengthAdjust="spacingAndGlyphs" transform="translate(13,668.8) rotate(-90)">HF Baseline firing rate [Hz]</text>
<line x1="156.7" y1="544.5" x2="186" y2="544.5" stroke="#222" stroke-width="1"/>
<text x="166.3" y="541.9" font-size="8.85" fill="#444" textLength="9.78" lengthAdjust="spacingAndGlyphs">ns</text>
<line x1="157.85" y1="587.3" x2="157.85" y2="609" stroke="#6a6a6a" stroke-width="1.15" stroke-dasharray="3.4,2.9"/>
<line x1="157.85" y1="626.1" x2="157.85" y2="648.1" stroke="#6a6a6a" stroke-width="1.15" stroke-dasharray="3.4,2.9"/>
<line x1="154.45" y1="586.1" x2="161.25" y2="586.1" stroke="#6a6a6a" stroke-width="1.2"/>
<line x1="154.45" y1="648.1" x2="161.25" y2="648.1" stroke="#6a6a6a" stroke-width="1.2"/>
<rect x="151.5" y="609.5" width="12.7" height="14.9" fill="#ffffff" stroke="#c0c0c0" stroke-width="1"/>
<line x1="151" y1="617.5" x2="164.7" y2="617.5" stroke="#404040" stroke-width="1.5"/>
<line x1="186.6" y1="594.6" x2="186.6" y2="611.3" stroke="#ff4848" stroke-width="1.15" stroke-dasharray="3.4,2.9"/>
<line x1="186.6" y1="625.6" x2="186.6" y2="642.3" stroke="#ff4848" stroke-width="1.15" stroke-dasharray="3.4,2.9"/>
<line x1="183.2" y1="593.4" x2="190" y2="593.4" stroke="#ff4848" stroke-width="1.2"/>
<line x1="183.2" y1="642.3" x2="190" y2="642.3" stroke="#ff4848" stroke-width="1.2"/>
<rect x="180.1" y="611.8" width="13" height="12.1" fill="#ffffff" stroke="#ff5a5a" stroke-width="1"/>
<line x1="179.6" y1="618.2" x2="193.6" y2="618.2" stroke="#f01010" stroke-width="1.5"/>
<line x1="141.8" y1="545.2" x2="141.8" y2="664" stroke="#000" stroke-width="1.2"/>
<line x1="141.2" y1="663.4" x2="202.1" y2="663.4" stroke="#000" stroke-width="1.2"/>
<line x1="139.6" y1="658.2" x2="141.8" y2="658.2" stroke="#000" stroke-width="1"/>
<line x1="139.6" y1="643.88" x2="141.8" y2="643.88" stroke="#000" stroke-width="1"/>
<line x1="139.6" y1="629.55" x2="141.8" y2="629.55" stroke="#000" stroke-width="1"/>
<line x1="139.6" y1="615.23" x2="141.8" y2="615.23" stroke="#000" stroke-width="1"/>
<line x1="139.6" y1="600.9" x2="141.8" y2="600.9" stroke="#000" stroke-width="1"/>
<line x1="139.6" y1="586.58" x2="141.8" y2="586.58" stroke="#000" stroke-width="1"/>
<line x1="139.6" y1="572.25" x2="141.8" y2="572.25" stroke="#000" stroke-width="1"/>
<line x1="139.6" y1="557.93" x2="141.8" y2="557.93" stroke="#000" stroke-width="1"/>
<text x="131.55" y="661.95" font-size="10.14" fill="#111" stroke="#111" textLength="6.26" lengthAdjust="spacingAndGlyphs">0</text>
<text x="126.08" y="633.3" font-size="10.14" fill="#111" stroke="#111" textLength="11.66" lengthAdjust="spacingAndGlyphs">20</text>
<text x="126.4" y="604.65" font-size="10.14" fill="#111" stroke="#111" textLength="11.33" lengthAdjust="spacingAndGlyphs">40</text>
<text x="126.08" y="576" font-size="10.14" fill="#111" stroke="#111" textLength="11.66" lengthAdjust="spacingAndGlyphs">60</text>
<line x1="157.85" y1="663.4" x2="157.85" y2="665.4" stroke="#000" stroke-width="1"/>
<line x1="186.6" y1="663.4" x2="186.6" y2="665.4" stroke="#000" stroke-width="1"/>
<text x="145.86" y="674.7" font-size="11.01" fill="#111" stroke="#111" textLength="19" lengthAdjust="spacingAndGlyphs">Rest</text>
<text x="172.7" y="674.7" font-size="11.45" fill="#ff0000" stroke="#ff0000" textLength="27.54" lengthAdjust="spacingAndGlyphs">Active</text>
<text x="0" y="0" font-size="10.72" fill="#111" stroke="#111" textLength="57.6" lengthAdjust="spacingAndGlyphs" transform="translate(122.8,633.98) rotate(-90)">HF ROV [ms]</text>
<line x1="264.4" y1="544.5" x2="294.5" y2="544.5" stroke="#222" stroke-width="1"/>
<text x="274.27" y="540.9" font-size="9" fill="#555" stroke="#555" textLength="10.33" lengthAdjust="spacingAndGlyphs">***</text>
<line x1="264.35" y1="548.8" x2="264.35" y2="573.5" stroke="#6a6a6a" stroke-width="1.15" stroke-dasharray="3.4,2.9"/>
<line x1="264.35" y1="607.8" x2="264.35" y2="656.2" stroke="#6a6a6a" stroke-width="1.15" stroke-dasharray="3.4,2.9"/>
<line x1="260.95" y1="547.6" x2="267.75" y2="547.6" stroke="#6a6a6a" stroke-width="1.2"/>
<line x1="260.95" y1="656.2" x2="267.75" y2="656.2" stroke="#6a6a6a" stroke-width="1.2"/>
<rect x="257.6" y="574" width="13.5" height="32.1" fill="#ffffff" stroke="#c0c0c0" stroke-width="1"/>
<line x1="257.1" y1="586.1" x2="271.6" y2="586.1" stroke="#404040" stroke-width="1.5"/>
<line x1="294.65" y1="556.3" x2="294.65" y2="593.5" stroke="#ff4848" stroke-width="1.15" stroke-dasharray="3.4,2.9"/>
<line x1="294.65" y1="622.7" x2="294.65" y2="662" stroke="#ff4848" stroke-width="1.15" stroke-dasharray="3.4,2.9"/>
<line x1="291.25" y1="555.1" x2="298.05" y2="555.1" stroke="#ff4848" stroke-width="1.2"/>
<line x1="291.25" y1="662" x2="298.05" y2="662" stroke="#ff4848" stroke-width="1.2"/>
<rect x="287.9" y="594" width="13.5" height="27" fill="#ffffff" stroke="#ff5a5a" stroke-width="1"/>
<line x1="287.4" y1="606.8" x2="301.9" y2="606.8" stroke="#f01010" stroke-width="1.5"/>
<line x1="249.4" y1="541.1" x2="249.4" y2="663.5" stroke="#000" stroke-width="1.2"/>
<line x1="248.8" y1="662.9" x2="310.4" y2="662.9" stroke="#000" stroke-width="1.2"/>
<line x1="247.2" y1="662.4" x2="249.4" y2="662.4" stroke="#000" stroke-width="1"/>
<line x1="247.2" y1="640.42" x2="249.4" y2="640.42" stroke="#000" stroke-width="1"/>
<line x1="247.2" y1="618.44" x2="249.4" y2="618.44" stroke="#000" stroke-width="1"/>
<line x1="247.2" y1="596.46" x2="249.4" y2="596.46" stroke="#000" stroke-width="1"/>
<line x1="247.2" y1="574.48" x2="249.4" y2="574.48" stroke="#000" stroke-width="1"/>
<line x1="247.2" y1="552.5" x2="249.4" y2="552.5" stroke="#000" stroke-width="1"/>
<text x="239.15" y="666.15" font-size="10.14" fill="#111" stroke="#111" textLength="6.26" lengthAdjust="spacingAndGlyphs">0</text>
<text x="228.29" y="622.19" font-size="10.14" fill="#111" stroke="#111" textLength="17.11" lengthAdjust="spacingAndGlyphs">200</text>
<text x="228.6" y="578.23" font-size="10.14" fill="#111" stroke="#111" textLength="16.79" lengthAdjust="spacingAndGlyphs">400</text>
<line x1="264.35" y1="662.9" x2="264.35" y2="664.9" stroke="#000" stroke-width="1"/>
<line x1="294.65" y1="662.9" x2="294.65" y2="664.9" stroke="#000" stroke-width="1"/>
<text x="252.44" y="674.7" font-size="11.01" fill="#111" stroke="#111" textLength="19.62" lengthAdjust="spacingAndGlyphs">Rest</text>
<text x="279.4" y="674.7" font-size="11.45" fill="#ff0000" stroke="#ff0000" textLength="27.94" lengthAdjust="spacingAndGlyphs">Active</text>
<text x="0" y="0" font-size="10.72" fill="#1cb01c" stroke="#1cb01c" textLength="125" lengthAdjust="spacingAndGlyphs" transform="translate(224.3,668.6) rotate(-90)">HF response frequency [Hz]</text>
<line x1="388.2" y1="548.5" x2="418.1" y2="548.5" stroke="#222" stroke-width="1"/>
<text x="397.97" y="545" font-size="9" fill="#555" stroke="#555" textLength="10.33" lengthAdjust="spacingAndGlyphs">***</text>
<line x1="388.9" y1="574.5" x2="388.9" y2="609.1" stroke="#6a6a6a" stroke-width="1.15" stroke-dasharray="3.4,2.9"/>
<line x1="388.9" y1="633.7" x2="388.9" y2="649" stroke="#6a6a6a" stroke-width="1.15" stroke-dasharray="3.4,2.9"/>
<line x1="385.5" y1="573.3" x2="392.3" y2="573.3" stroke="#6a6a6a" stroke-width="1.2"/>
<line x1="385.5" y1="649" x2="392.3" y2="649" stroke="#6a6a6a" stroke-width="1.2"/>
<rect x="382" y="609.1" width="13.8" height="23.4" fill="#c4c4c4"/>
<line x1="382" y1="621.1" x2="395.8" y2="621.1" stroke="#404040" stroke-width="1.5"/>
<line x1="419.5" y1="580.9" x2="419.5" y2="594.9" stroke="#ff4848" stroke-width="1.15" stroke-dasharray="3.4,2.9"/>
<line x1="419.5" y1="605.7" x2="419.5" y2="619.9" stroke="#ff4848" stroke-width="1.15" stroke-dasharray="3.4,2.9"/>
<line x1="416.1" y1="579.7" x2="422.9" y2="579.7" stroke="#ff4848" stroke-width="1.2"/>
<line x1="416.1" y1="619.9" x2="422.9" y2="619.9" stroke="#ff4848" stroke-width="1.2"/>
<rect x="412.6" y="594.9" width="13.8" height="9.6" fill="#ff8282"/>
<line x1="412.6" y1="599.5" x2="426.4" y2="599.5" stroke="#f01010" stroke-width="1.5"/>
<line x1="371.6" y1="543" x2="371.6" y2="662.3" stroke="#000" stroke-width="1.2"/>
<line x1="371" y1="661.7" x2="433.5" y2="661.7" stroke="#000" stroke-width="1.2"/>
<line x1="369.4" y1="649.1" x2="371.6" y2="649.1" stroke="#000" stroke-width="1"/>
<line x1="369.4" y1="606.7" x2="371.6" y2="606.7" stroke="#000" stroke-width="1"/>
<line x1="369.4" y1="564.3" x2="371.6" y2="564.3" stroke="#000" stroke-width="1"/>
<text x="361.35" y="652.85" font-size="10.14" fill="#111" stroke="#111" textLength="6.26" lengthAdjust="spacingAndGlyphs">0</text>
<text x="355.54" y="610.45" font-size="10.14" fill="#111" stroke="#111" textLength="12.01" lengthAdjust="spacingAndGlyphs">10</text>
<text x="355.88" y="568.05" font-size="10.14" fill="#111" stroke="#111" textLength="11.66" lengthAdjust="spacingAndGlyphs">20</text>
<line x1="388.9" y1="661.7" x2="388.9" y2="663.7" stroke="#000" stroke-width="1"/>
<line x1="419.5" y1="661.7" x2="419.5" y2="663.7" stroke="#000" stroke-width="1"/>
<text x="377.11" y="674.7" font-size="11.01" fill="#111" stroke="#111" textLength="20.35" lengthAdjust="spacingAndGlyphs">Rest</text>
<text x="404.3" y="674.7" font-size="11.45" fill="#ff0000" stroke="#ff0000" textLength="28.04" lengthAdjust="spacingAndGlyphs">Active</text>
<text x="0" y="0" font-size="10.72" fill="#a8a8a8" stroke="#a8a8a8" textLength="117.62" lengthAdjust="spacingAndGlyphs" transform="translate(352.9,667.4) rotate(-90)">LF Baseline firing rate [Hz]</text>
<line x1="496.6" y1="548.5" x2="525.8" y2="548.5" stroke="#222" stroke-width="1"/>
<text x="506.02" y="545" font-size="9" fill="#555" stroke="#555" textLength="10.33" lengthAdjust="spacingAndGlyphs">***</text>
<line x1="498.2" y1="563.2" x2="498.2" y2="593.5" stroke="#6a6a6a" stroke-width="1.15" stroke-dasharray="3.4,2.9"/>
<line x1="498.2" y1="615.4" x2="498.2" y2="645.2" stroke="#6a6a6a" stroke-width="1.15" stroke-dasharray="3.4,2.9"/>
<line x1="494.8" y1="562" x2="501.6" y2="562" stroke="#6a6a6a" stroke-width="1.2"/>
<line x1="494.8" y1="645.2" x2="501.6" y2="645.2" stroke="#6a6a6a" stroke-width="1.2"/>
<rect x="491.3" y="593.5" width="13.8" height="20.7" fill="#c4c4c4"/>
<line x1="491.3" y1="603.1" x2="505.1" y2="603.1" stroke="#404040" stroke-width="1.5"/>
<line x1="529" y1="572.9" x2="529" y2="590" stroke="#ff4848" stroke-width="1.15" stroke-dasharray="3.4,2.9"/>
<line x1="529" y1="602.7" x2="529" y2="620.6" stroke="#ff4848" stroke-width="1.15" stroke-dasharray="3.4,2.9"/>
<line x1="525.6" y1="571.7" x2="532.4" y2="571.7" stroke="#ff4848" stroke-width="1.2"/>
<line x1="525.6" y1="620.6" x2="532.4" y2="620.6" stroke="#ff4848" stroke-width="1.2"/>
<rect x="522.3" y="590" width="13.4" height="11.5" fill="#ff8282"/>
<line x1="522.3" y1="596.3" x2="535.7" y2="596.3" stroke="#f01010" stroke-width="1.5"/>
<line x1="482.6" y1="543" x2="482.6" y2="662.3" stroke="#000" stroke-width="1.2"/>
<line x1="482" y1="661.7" x2="543" y2="661.7" stroke="#000" stroke-width="1.2"/>
<line x1="480.4" y1="657.1" x2="482.6" y2="657.1" stroke="#000" stroke-width="1"/>
<line x1="480.4" y1="642.48" x2="482.6" y2="642.48" stroke="#000" stroke-width="1"/>
<line x1="480.4" y1="627.85" x2="482.6" y2="627.85" stroke="#000" stroke-width="1"/>
<line x1="480.4" y1="613.23" x2="482.6" y2="613.23" stroke="#000" stroke-width="1"/>
<line x1="480.4" y1="598.6" x2="482.6" y2="598.6" stroke="#000" stroke-width="1"/>
<line x1="480.4" y1="583.98" x2="482.6" y2="583.98" stroke="#000" stroke-width="1"/>
<line x1="480.4" y1="569.35" x2="482.6" y2="569.35" stroke="#000" stroke-width="1"/>
<line x1="480.4" y1="554.73" x2="482.6" y2="554.73" stroke="#000" stroke-width="1"/>
<text x="472.35" y="660.85" font-size="10.14" fill="#111" stroke="#111" textLength="6.26" lengthAdjust="spacingAndGlyphs">0</text>
<text x="466.88" y="631.6" font-size="10.14" fill="#111" stroke="#111" textLength="11.66" lengthAdjust="spacingAndGlyphs">20</text>
<text x="467.2" y="602.35" font-size="10.14" fill="#111" stroke="#111" textLength="11.33" lengthAdjust="spacingAndGlyphs">40</text>
<text x="466.88" y="573.1" font-size="10.14" fill="#111" stroke="#111" textLength="11.66" lengthAdjust="spacingAndGlyphs">60</text>
<line x1="498.2" y1="661.7" x2="498.2" y2="663.7" stroke="#000" stroke-width="1"/>
<line x1="529" y1="661.7" x2="529" y2="663.7" stroke="#000" stroke-width="1"/>
<text x="485.22" y="674.7" font-size="11.01" fill="#111" stroke="#111" textLength="19.93" lengthAdjust="spacingAndGlyphs">Rest</text>
<text x="512" y="674.7" font-size="11.45" fill="#ff0000" stroke="#ff0000" textLength="28.45" lengthAdjust="spacingAndGlyphs">Active</text>
<text x="0" y="0" font-size="10.72" fill="#111" stroke="#111" textLength="54.29" lengthAdjust="spacingAndGlyphs" transform="translate(464.3,630.15) rotate(-90)">LF ROV [ms]</text>
<line x1="604.4" y1="547.5" x2="634.2" y2="547.5" stroke="#222" stroke-width="1"/>
<text x="614.25" y="545.4" font-size="8.85" fill="#444" textLength="9.78" lengthAdjust="spacingAndGlyphs">ns</text>
<line x1="603.9" y1="590.1" x2="603.9" y2="625.6" stroke="#6a6a6a" stroke-width="1.15" stroke-dasharray="3.4,2.9"/>
<line x1="603.9" y1="652.8" x2="603.9" y2="661" stroke="#6a6a6a" stroke-width="1.15" stroke-dasharray="3.4,2.9"/>
<line x1="600.5" y1="588.9" x2="607.3" y2="588.9" stroke="#6a6a6a" stroke-width="1.2"/>
<line x1="600.5" y1="661" x2="607.3" y2="661" stroke="#6a6a6a" stroke-width="1.2"/>
<rect x="597" y="625.6" width="13.8" height="26" fill="#c4c4c4"/>
<line x1="597" y1="643.3" x2="610.8" y2="643.3" stroke="#404040" stroke-width="1.5"/>
<line x1="634.6" y1="618.8" x2="634.6" y2="635.3" stroke="#ff4848" stroke-width="1.15" stroke-dasharray="3.4,2.9"/>
<line x1="634.6" y1="647.5" x2="634.6" y2="658.7" stroke="#ff4848" stroke-width="1.15" stroke-dasharray="3.4,2.9"/>
<line x1="631.2" y1="617.6" x2="638" y2="617.6" stroke="#ff4848" stroke-width="1.2"/>
<line x1="631.2" y1="658.7" x2="638" y2="658.7" stroke="#ff4848" stroke-width="1.2"/>
<rect x="627.8" y="635.3" width="13.6" height="11" fill="#ff8282"/>
<line x1="627.8" y1="641" x2="641.4" y2="641" stroke="#f01010" stroke-width="1.5"/>
<line x1="589.3" y1="539.5" x2="589.3" y2="661.8" stroke="#000" stroke-width="1.2"/>
<line x1="588.7" y1="661.2" x2="649.6" y2="661.2" stroke="#000" stroke-width="1.2"/>
<line x1="587.1" y1="661.3" x2="589.3" y2="661.3" stroke="#000" stroke-width="1"/>
<line x1="587.1" y1="638.9" x2="589.3" y2="638.9" stroke="#000" stroke-width="1"/>
<line x1="587.1" y1="616.5" x2="589.3" y2="616.5" stroke="#000" stroke-width="1"/>
<line x1="587.1" y1="594.1" x2="589.3" y2="594.1" stroke="#000" stroke-width="1"/>
<line x1="587.1" y1="571.7" x2="589.3" y2="571.7" stroke="#000" stroke-width="1"/>
<line x1="587.1" y1="549.3" x2="589.3" y2="549.3" stroke="#000" stroke-width="1"/>
<text x="579.05" y="665.05" font-size="10.14" fill="#111" stroke="#111" textLength="6.26" lengthAdjust="spacingAndGlyphs">0</text>
<text x="573.9" y="620.25" font-size="10.14" fill="#111" stroke="#111" textLength="11.33" lengthAdjust="spacingAndGlyphs">40</text>
<text x="573.68" y="575.45" font-size="10.14" fill="#111" stroke="#111" textLength="11.55" lengthAdjust="spacingAndGlyphs">80</text>
<line x1="603.9" y1="661.2" x2="603.9" y2="663.2" stroke="#000" stroke-width="1"/>
<line x1="634.6" y1="661.2" x2="634.6" y2="663.2" stroke="#000" stroke-width="1"/>
<text x="592.95" y="672.5" font-size="10.72" fill="#111" stroke="#111" textLength="19.2" lengthAdjust="spacingAndGlyphs">Rest</text>
<text x="619.2" y="672.5" font-size="11.16" fill="#ff0000" stroke="#ff0000" textLength="28.04" lengthAdjust="spacingAndGlyphs">Active</text>
<text x="0" y="0" font-size="10.72" fill="#1cb01c" stroke="#1cb01c" textLength="122.83" lengthAdjust="spacingAndGlyphs" transform="translate(570,668.6) rotate(-90)">LF response frequency [Hz]</text>
</svg>
</body></html>
